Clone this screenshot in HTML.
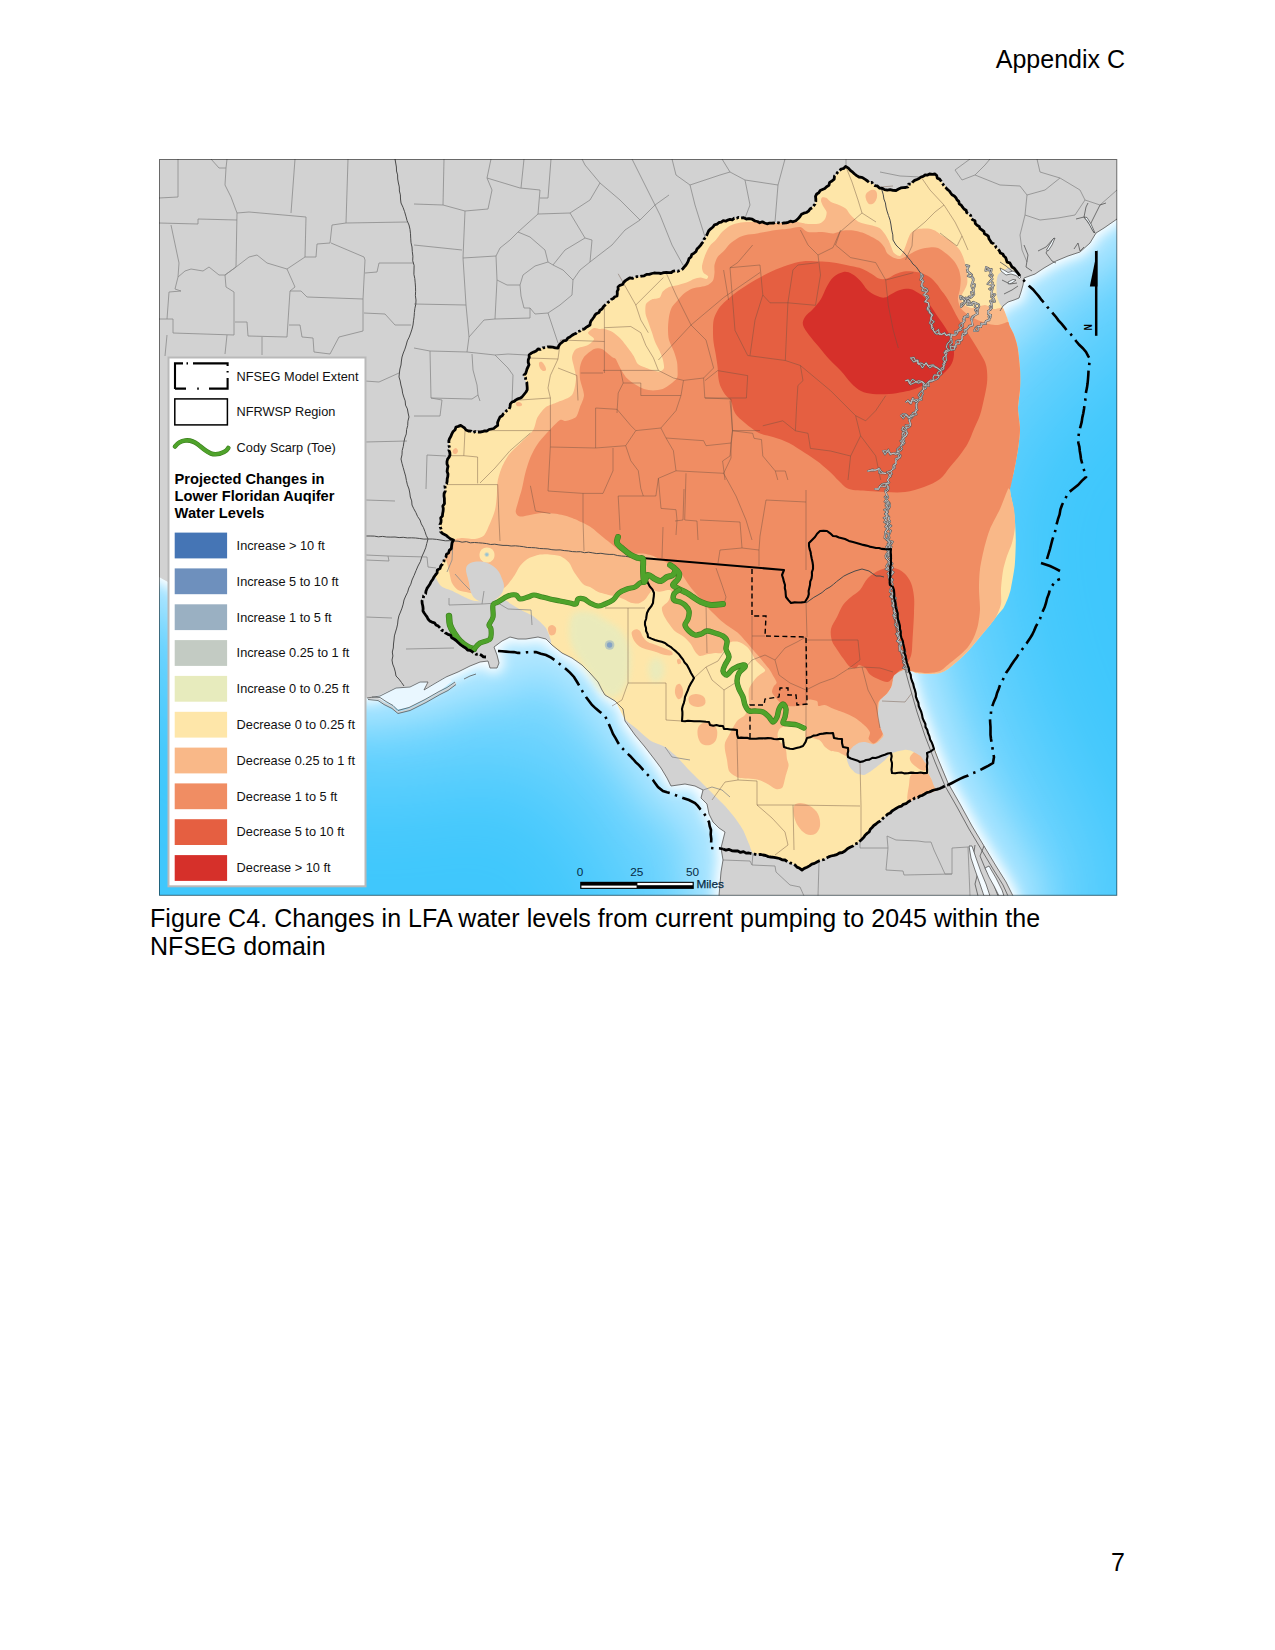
<!DOCTYPE html>
<html lang="en"><head><meta charset="utf-8"><title>Appendix C - Figure C4</title>
<style>
html,body{margin:0;padding:0;background:#fff;}
body{width:1275px;height:1650px;position:relative;overflow:hidden;font-family:"Liberation Sans",Arial,sans-serif;color:#000;}
.t{position:absolute;white-space:nowrap;font-size:25px;line-height:29px;}
svg{position:absolute;left:0;top:0;}
svg text{font-family:"Liberation Sans",Arial,sans-serif;}
</style></head><body>
<div class="t" style="right:150px;top:45px;">Appendix C</div>
<div class="t" style="left:150px;top:903.5px;line-height:28.6px;letter-spacing:0.045px;">Figure C4. Changes in LFA water levels from current pumping to 2045 within the<br>NFSEG domain</div>
<div class="t" style="right:150px;top:1548px;">7</div>
<svg width="1275" height="1650" viewBox="0 0 1275 1650">
<defs>
<clipPath id="frame"><rect x="159" y="159" width="958" height="736.5"/></clipPath>
<filter id="b1" x="-10%" y="-10%" width="120%" height="120%"><feGaussianBlur stdDeviation="60"/></filter>
<filter id="b2" x="-10%" y="-10%" width="120%" height="120%"><feGaussianBlur stdDeviation="22"/></filter>
<filter id="b3" x="-10%" y="-10%" width="120%" height="120%"><feGaussianBlur stdDeviation="6"/></filter>
<filter id="bs" x="-30%" y="-30%" width="160%" height="160%"><feGaussianBlur stdDeviation="3"/></filter>
</defs>
<g clip-path="url(#frame)">
<rect x="150" y="150" width="980" height="760" fill="#3fc7fc"/>
<path d="M150 150 L1130 150 L1130 214 L1117 219 L1104 228 L1096 233 L1090 243 L1080 252 L1068 256 L1056 261 L1044 268 L1035 274 L1024 278 L1023 285 L1021 292 L1019 298 L1014 300 L1008 302 L1003 306 L1000 311 L985 325 L965 345 L945 372 L925 395 L905 430 L892 470 L886 489 L888 519 L890 549 L892 585 L900 629 L908 669 L918 705 L928 733 L938 759 L948 783 L960 804 L972 826 L984 846 L996 866 L1006 882 L1013 896 L1016 905 L719 905 L719 896 L720 884 L721 872 L723 860 L721 848 L723 840 L725 832 L719 828 L713 822 L709 814 L707 804 L701 798 L703 790 L695 786 L685 784 L671 786 L667 778 L661 768 L655 760 L645 747 L635 735 L625 721 L623 709 L615 701 L605 695 L602 690 L598 682 L590 673 L582 665 L572 658 L562 653 L552 645 L546 639 L538 637 L526 639 L518 639 L510 637 L502 641 L494 647 L497 655 L499 663 L497 668 L490 668 L488 661 L480 662 L470 666 L458 672 L446 677 L434 684 L424 690 L428 682 L420 682 L410 687 L396 688 L380 696 L367 698 L340 690 L300 660 L250 640 L200 600 L159 577 L150 575Z" fill="#86daff" stroke="#86daff" stroke-width="150" stroke-linejoin="round" filter="url(#b1)"/>
<path d="M150 150 L1130 150 L1130 214 L1117 219 L1104 228 L1096 233 L1090 243 L1080 252 L1068 256 L1056 261 L1044 268 L1035 274 L1024 278 L1023 285 L1021 292 L1019 298 L1014 300 L1008 302 L1003 306 L1000 311 L985 325 L965 345 L945 372 L925 395 L905 430 L892 470 L886 489 L888 519 L890 549 L892 585 L900 629 L908 669 L918 705 L928 733 L938 759 L948 783 L960 804 L972 826 L984 846 L996 866 L1006 882 L1013 896 L1016 905 L719 905 L719 896 L720 884 L721 872 L723 860 L721 848 L723 840 L725 832 L719 828 L713 822 L709 814 L707 804 L701 798 L703 790 L695 786 L685 784 L671 786 L667 778 L661 768 L655 760 L645 747 L635 735 L625 721 L623 709 L615 701 L605 695 L602 690 L598 682 L590 673 L582 665 L572 658 L562 653 L552 645 L546 639 L538 637 L526 639 L518 639 L510 637 L502 641 L494 647 L497 655 L499 663 L497 668 L490 668 L488 661 L480 662 L470 666 L458 672 L446 677 L434 684 L424 690 L428 682 L420 682 L410 687 L396 688 L380 696 L367 698 L340 690 L300 660 L250 640 L200 600 L159 577 L150 575Z" fill="#b9e9ff" stroke="#b9e9ff" stroke-width="50" stroke-linejoin="round" filter="url(#b2)"/>
<path d="M150 150 L1130 150 L1130 214 L1117 219 L1104 228 L1096 233 L1090 243 L1080 252 L1068 256 L1056 261 L1044 268 L1035 274 L1024 278 L1023 285 L1021 292 L1019 298 L1014 300 L1008 302 L1003 306 L1000 311 L985 325 L965 345 L945 372 L925 395 L905 430 L892 470 L886 489 L888 519 L890 549 L892 585 L900 629 L908 669 L918 705 L928 733 L938 759 L948 783 L960 804 L972 826 L984 846 L996 866 L1006 882 L1013 896 L1016 905 L719 905 L719 896 L720 884 L721 872 L723 860 L721 848 L723 840 L725 832 L719 828 L713 822 L709 814 L707 804 L701 798 L703 790 L695 786 L685 784 L671 786 L667 778 L661 768 L655 760 L645 747 L635 735 L625 721 L623 709 L615 701 L605 695 L602 690 L598 682 L590 673 L582 665 L572 658 L562 653 L552 645 L546 639 L538 637 L526 639 L518 639 L510 637 L502 641 L494 647 L497 655 L499 663 L497 668 L490 668 L488 661 L480 662 L470 666 L458 672 L446 677 L434 684 L424 690 L428 682 L420 682 L410 687 L396 688 L380 696 L367 698 L340 690 L300 660 L250 640 L200 600 L159 577 L150 575Z" fill="#ffffff" stroke="#ffffff" stroke-width="9" stroke-linejoin="round" filter="url(#b3)"/>
<path d="M150 150 L1130 150 L1130 214 L1117 219 L1104 228 L1096 233 L1090 243 L1080 252 L1068 256 L1056 261 L1044 268 L1035 274 L1024 278 L1023 285 L1021 292 L1019 298 L1014 300 L1008 302 L1003 306 L1000 311 L985 325 L965 345 L945 372 L925 395 L905 430 L892 470 L886 489 L888 519 L890 549 L892 585 L900 629 L908 669 L918 705 L928 733 L938 759 L948 783 L960 804 L972 826 L984 846 L996 866 L1006 882 L1013 896 L1016 905 L719 905 L719 896 L720 884 L721 872 L723 860 L721 848 L723 840 L725 832 L719 828 L713 822 L709 814 L707 804 L701 798 L703 790 L695 786 L685 784 L671 786 L667 778 L661 768 L655 760 L645 747 L635 735 L625 721 L623 709 L615 701 L605 695 L602 690 L598 682 L590 673 L582 665 L572 658 L562 653 L552 645 L546 639 L538 637 L526 639 L518 639 L510 637 L502 641 L494 647 L497 655 L499 663 L497 668 L490 668 L488 661 L480 662 L470 666 L458 672 L446 677 L434 684 L424 690 L428 682 L420 682 L410 687 L396 688 L380 696 L367 698 L340 690 L300 660 L250 640 L200 600 L159 577 L150 575Z" fill="#d2d2d2"/>
<path d="M372 697 L380 695 L396 687.5 L410 686.5 L420 681.5 L427 682 L423 690 L434 683.5 L446 676.5 L452 681 L440 691 L426 699 L410 707 L398 709.5 L392 705 L384 701 L378 698Z" fill="#e9f7ff"/>
<path d="M368 698C369.7 698.2 375.3 698.2 378 699C380.7 699.8 381.7 701.7 384 703C386.3 704.3 389.7 705.5 392 707C394.3 708.5 395 711.7 398 712C401 712.3 405.3 710.8 410 709C414.7 707.2 421 703.7 426 701C431 698.3 436.3 695 440 693C443.7 691 445.3 690.7 448 689C450.7 687.3 454.7 684 456 683" fill="none" stroke="#d2d2d2" stroke-width="1.6"/>
<path d="M1020 276C1020.2 275.9 1014.6 270.1 1012 267C1009.4 263.9 1001.5 253.3 998 249C994.5 244.7 986 234.7 982 230C978 225.3 967.8 213.6 964 209C960.2 204.4 952.1 194.3 949.4 191C946.7 187.7 942.7 183 941 181C939.3 179 936.3 174.8 935 174C933.7 173.2 931.2 173.7 929.6 174C928 174.3 923 176.1 921 177C919 177.9 914.5 180.8 912.7 182C910.9 183.2 907.2 186.7 905.6 187.5C904 188.3 900.1 188.7 898.6 189C897.1 189.3 894.6 190.3 893 190.4C891.4 190.5 886.3 190.1 884.5 189.6C882.7 189.1 879.4 187 877.4 186C875.4 185 869.6 182.1 867.5 181C865.4 179.9 861 178.2 859 177C857 175.8 852.2 171.8 850.6 170.6C849 169.4 846.7 166.6 845.6 166.4C844.5 166.2 842.5 168.1 841.4 169C840.3 169.9 837.6 172.6 836.5 174C835.4 175.4 833.2 179.5 832 181C830.8 182.5 828.4 185.3 826.6 186.8C824.8 188.3 818.1 192 816.7 194C815.3 196 815.8 202.2 815 204C814.2 205.8 811.8 207.5 810 209C808.2 210.5 802 215 800 216.5C798 218 794.9 221 793 221.8C791.1 222.6 785.7 222.9 783.5 223C781.3 223.1 776.2 223 774 223C771.8 223 766.9 223.2 764.7 223C762.5 222.8 756.8 221.5 755 221C753.2 220.5 750.6 219 749 218.6C747.4 218.2 743.2 217.7 741 217.8C738.8 217.9 732.6 218.9 730 219.4C727.4 219.9 721 221.6 719 222.5C717 223.4 714.3 225.7 713 227C711.7 228.3 708.6 231.8 707.5 233.5C706.4 235.2 704.7 239.6 703.5 241.4C702.3 243.2 698.5 247.2 697 249C695.5 250.8 692.3 255.1 691 257C689.7 258.9 687.3 263.4 686 265C684.7 266.6 682 269.5 680 270.4C678 271.3 671.2 272.3 669 272.7C666.8 273.1 663 273.4 661 273.5C659 273.6 654.4 273.1 651.8 273.5C649.2 273.9 641.8 276.1 639 276.7C636.2 277.3 630.5 277.8 628 279C625.5 280.2 619.3 285 618 287C616.7 289 618.2 294.2 617 296C615.8 297.8 609.5 301 607.8 302.5C606 304 603.6 307.3 602 309C600.4 310.7 595.4 315.1 594 317C592.6 318.9 591.6 323.4 590 325C588.4 326.6 582.3 329.6 580 331C577.7 332.4 572.3 335.5 570 337C567.7 338.5 561.4 342.7 560 344C558.6 345.3 559.2 347.6 558 348C556.8 348.4 552.3 346.9 550 347C547.7 347.1 540.5 348.1 538 349C535.5 349.9 530.2 352.9 529 355C527.8 357.1 528.6 364.7 528 367C527.4 369.3 524.1 372.9 524 375C523.9 377.1 526.8 383 527 385C527.2 387 526.6 390.6 526 392C525.4 393.4 523.6 395.8 522 397C520.4 398.2 513.4 400.8 512 402C510.6 403.2 511.4 405.2 510 407C508.6 408.8 501.3 415.5 500 417C498.7 418.5 498.9 419 498.6 420C498.3 421 498.6 424.3 497.7 425.4C496.8 426.4 493.1 428.3 491.3 429C489.5 429.7 484.4 431.3 482.3 431.7C480.2 432.1 475.2 432.8 473.3 432.6C471.4 432.4 467.5 430.8 466 430C464.5 429.2 461.9 425.8 460.7 425.4C459.5 425 457.1 425.9 456 427C454.9 428.1 452.4 432.5 451.6 434.4C450.8 436.3 449.2 441.4 449 443.5C448.8 445.6 450 450.4 449.8 452.5C449.6 454.6 447.2 459 447 461.5C446.8 464 448.2 470.8 448 474C447.8 477.2 445.7 485.5 445.3 488.6C444.9 491.8 444.7 498.1 444.4 501C444.1 503.9 443.1 511 442.6 513.8C442.1 516.6 440.2 522.5 440 524.6C439.8 526.7 439.9 530.5 440.8 531.9C441.7 533.3 446.5 536.1 448 537C449.5 537.9 453.1 539 453.5 540C453.9 541 452.5 544 451.6 546C450.7 548 447.3 554.7 446 557C444.7 559.3 442 563.9 440.8 566C439.6 568.1 435.4 572.7 435.4 575C435.4 577.3 438.9 584.1 441 586C443.1 587.9 450.6 590 453.5 591.4C456.4 592.8 463.5 596.6 466 597.7C468.5 598.8 472.2 600.6 475 601C477.8 601.4 486.9 601.3 490 601C493.1 600.7 499.6 598.2 502 598.6C504.4 599 508.9 602.7 511 604C513.1 605.3 517.7 608.1 520 609.4C522.3 610.7 528.9 613.6 531 614.8C533.1 616 536.3 618.5 538 620C539.7 621.5 544.2 625.8 545.5 627.5C546.8 629.2 548.4 633.1 549 634.7C549.6 636.3 550.6 639.8 551 641C551.4 642.2 550.7 643.6 552 645C553.3 646.4 559.7 651.5 562 653C564.3 654.5 569.7 656.6 572 658C574.3 659.4 579.9 663.2 582 665C584.1 666.8 588.1 671 590 673C591.9 675 596.6 680 598 682C599.4 684 601.2 688.5 602 690C602.8 691.5 603.5 693.7 605 695C606.5 696.3 612.7 698.2 615 701C617.3 703.8 622.4 715.7 625 719C627.6 722.3 634 726.4 637 729C640 731.6 647.7 738.9 651 741C654.3 743.1 662 745.1 665 747C668 748.9 674.2 754.3 677 757C679.8 759.7 686.2 767.1 689 770C691.8 772.9 698.2 779.2 701 782C703.8 784.8 710.2 791.2 713 794C715.8 796.8 722.4 803.2 725 806C727.6 808.8 732.9 815.2 735 818C737.1 820.8 741.4 827 743 830C744.6 833 747.8 841.3 749 844C750.2 846.7 751.4 851.7 753 853C754.6 854.3 760.9 854.5 763 855C765.1 855.5 768.4 856.4 771 857C773.6 857.6 782.2 859.1 785 860C787.8 860.9 793 863.8 795 865C797 866.2 799.4 870.4 802 870C804.6 869.6 813.6 863.6 817 862C820.4 860.4 827.7 857.3 831 856C834.3 854.7 842.4 852.2 845 851C847.6 849.8 851.2 847.2 853 846C854.8 844.8 857.3 843.6 860 841C862.7 838.4 872.3 827.5 876 824C879.7 820.5 888.3 813.6 892 811C895.7 808.4 904.7 803.8 908 802C911.3 800.2 917 797.4 920 796C923 794.6 931.7 790.9 934 790C936.3 789.1 939.5 791.6 940 788C940.5 784.4 939.4 765.4 938 759C936.6 752.6 930.3 739.3 928 733C925.7 726.7 920.1 712.2 918 705C915.9 697.8 910.2 674.7 910 671C909.8 667.3 913.9 672.6 916 673C918.1 673.4 925.2 674 928 674C930.8 674 937.7 673.6 940 673C942.3 672.4 945.7 670.6 948 669C950.3 667.4 957.4 661.3 960 659C962.6 656.7 967.7 651.6 970 649C972.3 646.4 977.7 639.8 980 637C982.3 634.2 988.1 627.3 990 625C991.9 622.7 994.4 619 996 617C997.6 615 1002.1 610.2 1003.5 608C1004.9 605.8 1007.1 600.3 1008 598C1008.9 595.7 1010.2 591.9 1011 588C1011.8 584.1 1014.2 570.6 1014.8 565C1015.4 559.4 1015.8 545 1015.8 540C1015.8 535 1015.3 525.6 1015 522C1014.7 518.4 1014.2 512.9 1013.6 509C1013 505.1 1010 493.4 1010 489C1010 484.6 1013.1 475.7 1014 471C1014.9 466.3 1017.3 453.9 1018 449C1018.7 444.1 1020 433.7 1020 429C1020 424.3 1018 413.7 1018 409C1018 404.3 1019.8 393.7 1020 389C1020.2 384.3 1020.2 373.6 1020 369C1019.8 364.4 1018.5 353.3 1018 350C1017.5 346.7 1016.5 342.9 1016 341C1015.5 339.1 1014.1 335.2 1013.4 333.5C1012.7 331.8 1010.3 327.9 1009.6 326C1008.9 324.1 1007.8 319.6 1007 317.5C1006.2 315.4 1003.8 309.6 1003 308C1002.2 306.4 1000.7 305.4 1000 304C999.3 302.6 997.4 298.4 997 296C996.6 293.6 996.4 285.4 996.5 283C996.6 280.6 997.2 276.5 998 275C998.8 273.5 1001.6 271.3 1003 270.5C1004.4 269.7 1008 267.4 1010 268C1012 268.6 1019.8 276.1 1020 276Z" fill="#fee6a9"/>
<path d="M572 615C575.3 610.3 584.5 611.2 590 612C595.5 612.8 600 617 605 620C610 623 615.8 625 620 630C624.2 635 628.7 641.7 630 650C631.3 658.3 630.5 672.2 628 680C625.5 687.8 619.7 695.3 615 697C610.3 698.7 604.2 693.7 600 690C595.8 686.3 593.3 680 590 675C586.7 670 583.3 665.8 580 660C576.7 654.2 571.3 647.5 570 640C568.7 632.5 568.7 619.7 572 615Z" fill="#e8ebbd" filter="url(#bs)" opacity="0.9"/>
<path d="M650 662C651.5 659.3 655.7 657.3 658 658C660.3 658.7 663.3 662.7 664 666C664.7 669.3 663.7 675.3 662 678C660.3 680.7 656.2 682.7 654 682C651.8 681.3 649.7 677.3 649 674C648.3 670.7 648.5 664.7 650 662Z" fill="#e8ebbd" filter="url(#bs)" opacity="0.9"/>
<path d="M453.5 540C455 538.9 459.6 538.1 462.5 538C465.4 537.9 472.1 539.3 475 539C477.9 538.7 482.1 537.4 484 535.5C485.9 533.6 488 528 489.5 524.6C491 521.2 494 513.8 495 510C496 506.2 496.4 499.7 496.8 495.8C497.2 491.9 497 484.8 497.7 481C498.4 477.2 500.4 470.6 502 467C503.6 463.4 507 457.1 509.4 454C511.8 450.9 516.9 446.6 520 443.5C523.1 440.4 530.6 433.9 532.8 430.8C535 427.7 535.6 422.1 536.4 420C537.2 417.9 537.7 416.7 539 415C540.3 413.3 543.5 408.7 546 407C548.5 405.3 554.5 403.6 558 402C561.5 400.4 569.6 398.1 572 395C574.4 391.9 575.7 382.7 576 379C576.3 375.3 574.5 369.9 574 367C573.5 364.1 571.7 359.4 572 357C572.3 354.6 573.9 350.6 576 349C578.1 347.4 585.6 346.3 588 345C590.4 343.7 594 340.6 594 339C594 337.4 588 334.5 588 333C588 331.5 592.4 328.5 594 328C595.6 327.5 598.6 328.9 600 329C601.4 329.1 603 328.6 604.7 329C606.4 329.4 610.4 330.7 612.5 332C614.6 333.3 618.3 336.5 620.4 338.6C622.5 340.7 626.2 345.7 628 348C629.8 350.3 632.4 353.9 633.7 356C635 358.1 636.2 362.2 637.6 363.7C639 365.2 642.1 366.2 644 367C645.9 367.8 649.7 369.4 651.8 370C653.9 370.6 658 371.9 659.6 371.6C661.2 371.3 663.6 369.7 664 368C664.4 366.3 663.3 361.3 662.7 359C662.1 356.7 660.6 353.3 659.6 351C658.6 348.7 656 344.3 655 341.8C654 339.3 652.7 334.5 651.8 332C650.9 329.5 649.4 325.5 648.6 323C647.8 320.5 645.8 316 645.5 313.5C645.2 311 645.2 305.9 646 304C646.8 302.1 650 300.2 651.8 299.4C653.6 298.6 658.1 298.8 659.6 297.8C661.1 296.8 661.4 293 662.7 291.6C664 290.2 666.9 287.9 669 287C671.1 286.1 675.9 285.7 678.4 285C680.9 284.3 685.7 282.8 687.8 282C689.9 281.2 692.3 279.6 694 279C695.7 278.4 698.7 277.5 700.4 277.5C702.1 277.5 705.7 279.2 706.7 279C707.7 278.8 708.4 276.8 708 276C707.6 275.2 704.3 274 703.5 272.7C702.7 271.4 701.8 268.8 702 266.5C702.2 264.2 704 258.2 705 255.5C706 252.8 708.3 248.1 709.8 246C711.3 243.9 714.4 241.7 716 239.8C717.6 237.9 720.1 233.9 722 232C723.9 230.1 727.5 227 730 225.7C732.5 224.4 737.7 223 741 222.5C744.3 222 751.8 221.9 755 222C758.2 222.1 762.2 222.9 764.7 223C767.2 223.1 771.5 223 774 223C776.5 223 781 223.2 783.5 223C786 222.8 791.1 221.9 793 221.8C794.9 221.7 796 221.7 798 222C800 222.3 805.1 223.8 808 224C810.9 224.2 817.2 224.2 819.5 223.5C821.8 222.8 824.1 220.5 825 219C825.9 217.5 826.9 213.7 826.6 212C826.3 210.3 823.7 207.5 823 206C822.3 204.5 821.1 202.1 821 201C820.9 199.9 821.3 197.8 822 197.4C822.7 197 825.4 197.4 826.6 198C827.8 198.6 829.3 201.1 831 202C832.7 202.9 837 204.1 839 205C841 205.9 844.5 207.4 846 208.7C847.5 210 848.9 213.2 850.6 215C852.3 216.8 856.4 220.7 859 222C861.6 223.3 867.3 224.2 870 225C872.7 225.8 877.1 226.7 879 227.8C880.9 228.9 883.2 231.7 884.5 233.4C885.8 235.1 887.8 238.6 888.7 240.5C889.6 242.4 890.8 245.8 891.5 247.5C892.2 249.2 892.9 251.9 894 253C895.1 254.1 898.7 256.4 900 256C901.3 255.6 903.1 251.9 904 250C904.9 248.1 906.1 244.3 907 242C907.9 239.7 909.5 234.7 911 233C912.5 231.3 915.7 229.6 918 229C920.3 228.4 925.7 228.3 928 228.5C930.3 228.7 933.3 229.7 935 230.6C936.7 231.5 939.1 233.7 941 235C942.9 236.3 947 238.2 949.4 240C951.8 241.8 956.9 246.4 958.8 248.8C960.7 251.2 962.5 255.2 963.5 258C964.5 260.8 965.9 266.2 966.4 269.5C966.9 272.8 967.6 280 967.3 282.7C967 285.4 965.4 288 964.5 290C963.6 292 960.7 295.8 960.7 297.8C960.7 299.8 962.9 303.6 964.5 305C966.1 306.4 970.3 308 973 308C975.7 308 982.3 304.9 985 305C987.7 305.1 991 308.6 993 309C995 309.4 998.7 308.1 1000 308C1001.3 307.9 1002.1 306.7 1003 308C1003.9 309.3 1006.1 315.1 1007 317.5C1007.9 319.9 1008.7 323.9 1009.6 326C1010.5 328.1 1012.5 331.5 1013.4 333.5C1014.3 335.5 1015.4 338.8 1016 341C1016.6 343.2 1017.5 346.3 1018 350C1018.5 353.7 1019.7 363.8 1020 369C1020.3 374.2 1020.3 383.7 1020 389C1019.7 394.3 1018 403.7 1018 409C1018 414.3 1020 423.7 1020 429C1020 434.3 1018.8 443.4 1018 449C1017.2 454.6 1015.1 465.7 1014 471C1012.9 476.3 1010 483.9 1010 489C1010 494.1 1013.3 503.9 1014 509C1014.7 514.1 1015.3 522.5 1015 527C1014.7 531.5 1013.1 539.1 1012 543C1010.9 546.9 1008.2 552.3 1007 556C1005.8 559.7 1003.8 566.6 1003 571C1002.2 575.4 1001.3 584.6 1001 589C1000.7 593.4 1001.7 600.3 1001 604C1000.3 607.7 997.5 614.2 996 617C994.5 619.8 992.1 622.3 990 625C987.9 627.7 982.7 633.8 980 637C977.3 640.2 972.7 646.1 970 649C967.3 651.9 962.9 656.3 960 659C957.1 661.7 950.7 667.1 948 669C945.3 670.9 942.7 672.3 940 673C937.3 673.7 931.2 674 928 674C924.8 674 918.4 673.4 916 673C913.6 672.6 911.5 668.7 910 671C908.5 673.3 907 684.8 905 690C903 695.2 897.5 704.7 895 710C892.5 715.3 888 725.3 886 730C884 734.7 882.1 741.7 880 745C877.9 748.3 874 753.4 870 755C866 756.6 853.6 757.1 850 757C846.4 756.9 844.6 755.2 843 754.5C841.4 753.8 839.6 752.5 838 752C836.4 751.5 832.7 751.7 831 751C829.3 750.3 826.5 748.4 825 747C823.5 745.6 822.1 741.7 820 740.4C817.9 739.1 810.9 737.8 809 737.3C807.1 736.8 806 738.6 805.5 737C805 735.4 806.8 726.5 805 725C803.2 723.5 795 725.1 791.8 725.5C788.6 725.9 782.7 726.7 780.8 727.8C778.9 728.9 777.8 732.3 777.6 734C777.4 735.7 777.9 738.5 779 740.4C780.1 742.3 784.4 745.5 785.5 748C786.6 750.5 786.6 756.7 787 759C787.4 761.3 788.8 763.2 788.6 765.5C788.4 767.8 786.3 773.6 785.5 776.5C784.7 779.4 783.7 785.8 782.4 787.5C781.1 789.2 777.9 789.4 776 789C774.1 788.6 770.5 785.6 768 784.3C765.5 783 760.7 780.4 757 779.6C753.3 778.8 742.9 778.5 740 778C737.1 777.5 736.5 776.9 735 776C733.5 775.1 730.1 773.1 729 771C727.9 768.9 727.5 762.8 727 760C726.5 757.2 725.3 752.3 725 750C724.7 747.7 724.5 745 725 743C725.5 741 727.4 737.9 729 735C730.6 732.1 734.9 723.7 737 721C739.1 718.3 743.4 717.1 745 715C746.6 712.9 748.5 708.5 749 705C749.5 701.5 747.9 692.7 749 689C750.1 685.3 754.9 679.4 757 677C759.1 674.6 764.3 672.3 765 671C765.7 669.7 763.7 668.4 762.5 667C761.3 665.6 757.5 662.7 756 660.8C754.5 658.9 752.8 654.9 751.6 653C750.4 651.1 748.6 648.2 746.9 646.7C745.2 645.2 741.1 642.6 739 642C736.9 641.4 732.9 641.4 731 642C729.1 642.6 726.2 645.2 725 646.7C723.8 648.2 723.1 652.2 721.8 653C720.5 653.8 717.6 652.8 715.5 653C713.4 653.2 708.1 654.1 706 654.5C703.9 654.9 701.3 656.4 699.8 656C698.3 655.6 696.3 653.1 695 651.4C693.7 649.7 691.9 645.4 690.4 643.5C688.9 641.6 686.1 638.7 684 637C681.9 635.3 676.8 632.9 674.7 631C672.6 629.1 669.9 625.1 668.4 623C666.9 620.9 664.6 617.4 663.7 615.3C662.8 613.2 661.4 609.4 662 607.5C662.6 605.6 667.1 603.1 668.4 601C669.7 598.9 671.6 593.3 671.6 591.8C671.6 590.3 670.1 590 668.4 590C666.7 590 661.1 591.8 659 591.8C656.9 591.8 654 589.8 652.7 590C651.4 590.2 650.6 592 649.6 593.3C648.6 594.6 646.5 598.2 645 599.6C643.5 601 640.5 603.1 638.6 603.5C636.7 603.9 632.7 603.2 630.8 602.7C628.9 602.2 626.4 600.4 624.5 599.6C622.6 598.8 618.8 597.1 616.7 596.5C614.6 595.9 611.3 595.6 608.8 595C606.3 594.4 600.3 592.9 597.8 591.8C595.3 590.7 592 588 590 587C588 586 585.1 586 583 584C580.9 582 575.9 574.9 574 572C572.1 569.1 570.9 564.6 569 562.5C567.1 560.4 562.7 557.1 560 556C557.3 554.9 551.9 554.5 549 554.4C546.1 554.3 540.9 554.4 538 555C535.1 555.6 529.8 557.5 527.4 559C525 560.5 521.7 563.9 520 566C518.3 568.1 516.2 572.8 514.8 575C513.4 577.2 510.8 580.7 509.4 582.4C508 584.1 505.8 586.7 504 588C502.2 589.3 498.4 590.9 496 592C493.6 593.1 488.8 595.7 486 596C483.2 596.3 477.7 594.5 475 594C472.3 593.5 468.3 592.5 466 592C463.7 591.5 459.9 591.2 458 590C456.1 588.8 453.2 585.5 452 583C450.8 580.5 449.8 574.1 449 571C448.2 567.9 446.9 561.1 446 560C445.1 558.9 442 563.4 442 563C442 562.6 444.7 559.3 446 557C447.3 554.7 450.6 548.3 451.6 546C452.6 543.7 452 541.1 453.5 540Z" fill="#f9b888"/>
<path d="M539 363C539.3 362 541 361.5 542 362C543 362.5 544.3 364.7 545 366C545.7 367.3 546.3 369.2 546 370C545.7 370.8 544 371.3 543 371C542 370.7 540.7 369.3 540 368C539.3 366.7 538.7 364 539 363Z" fill="#f9b888"/>
<path d="M516 403C516.3 402.3 518 401.8 519 402C520 402.2 521.7 403.3 522 404C522.3 404.7 521.8 405.7 521 406C520.2 406.3 517.8 406.5 517 406C516.2 405.5 515.7 403.7 516 403Z" fill="#f9b888"/>
<path d="M453 450C453.5 449.2 455.2 447.8 456 448C456.8 448.2 458 450 458 451C458 452 456.8 453.7 456 454C455.2 454.3 453.5 453.7 453 453C452.5 452.3 452.5 450.8 453 450Z" fill="#f9b888"/>
<path d="M866 194C866.8 192.5 869.3 190.5 871 190C872.7 189.5 875 189.8 876 191C877 192.2 877.3 195 877 197C876.7 199 875.3 201.8 874 203C872.7 204.2 870.3 204.7 869 204C867.7 203.3 866.5 200.7 866 199C865.5 197.3 865.2 195.5 866 194Z" fill="#f9b888"/>
<path d="M631.6 632.5C631.9 630.7 634.1 629.6 635.5 629.4C636.9 629.1 638.8 629.7 640 631C641.2 632.3 641.7 635.2 643 637C644.3 638.8 645.8 640.7 648 642C650.2 643.3 653.4 644 656 645C658.6 646 661.1 646.9 663.7 648C666.3 649.1 670.2 650.2 671.6 651.4C673 652.6 673.1 654.4 672 655C670.9 655.6 667.7 655.5 665 655C662.3 654.5 658.8 652.9 656 652C653.2 651.1 650.7 650.7 648 649.8C645.3 648.9 642.3 648.3 640 646.7C637.7 645.1 635.4 642.8 634 640.4C632.6 638 631.4 634.3 631.6 632.5Z" fill="#f9b888"/>
<path d="M677 660C677.3 659.2 679.3 658.5 680 659C680.7 659.5 681.3 662.2 681 663C680.7 663.8 678.7 664.5 678 664C677.3 663.5 676.7 660.8 677 660Z" fill="#f9b888"/>
<path d="M676 686C676.8 684.5 678.8 683.3 680 684C681.2 684.7 682.7 687.8 683 690C683.3 692.2 682.8 695.5 682 697C681.2 698.5 679.2 699.7 678 699C676.8 698.3 675.3 695.2 675 693C674.7 690.8 675.2 687.5 676 686Z" fill="#f9b888"/>
<path d="M689 697C690 695.3 693.5 694 696 694C698.5 694 702.5 695.3 704 697C705.5 698.7 706 702.3 705 704C704 705.7 700.5 707 698 707C695.5 707 691.5 705.7 690 704C688.5 702.3 688 698.7 689 697Z" fill="#f9b888"/>
<path d="M698 728C698.8 725.7 700.7 723.7 703 723C705.3 722.3 709.7 722.8 712 724C714.3 725.2 716.3 727.3 717 730C717.7 732.7 717.2 737.5 716 740C714.8 742.5 712.3 744.3 710 745C707.7 745.7 704 745.3 702 744C700 742.7 698.7 739.7 698 737C697.3 734.3 697.2 730.3 698 728Z" fill="#f9b888"/>
<path d="M794 806C795 803.8 797.3 803 800 803C802.7 803 807 804.2 810 806C813 807.8 816.3 810.7 818 814C819.7 817.3 820.5 822.7 820 826C819.5 829.3 817.3 832.7 815 834C812.7 835.3 808.8 835.3 806 834C803.2 832.7 800 829 798 826C796 823 794.7 819.3 794 816C793.3 812.7 793 808.2 794 806Z" fill="#f9b888"/>
<path d="M548 628C548.3 626.3 550.7 625 552 625C553.3 625 555.5 626.5 556 628C556.5 629.5 556 632.8 555 634C554 635.2 551.2 636 550 635C548.8 634 547.7 629.7 548 628Z" fill="#f9b888"/>
<path d="M908 801C906.2 799.2 908.3 789.5 909 785C909.7 780.5 909 775.9 912 774C915 772.1 923.8 772.8 927 773.5C930.2 774.2 929.3 775.3 931 778C932.7 780.7 938.8 786.5 937 789.5C935.2 792.5 924.8 794.1 920 796C915.2 797.9 909.8 802.8 908 801Z" fill="#f9b888"/>
<path d="M910 757C910.7 755.2 913.2 752.6 915 751.5C916.8 750.4 919.1 750.2 921 750.5C922.9 750.8 925.6 749.9 926.5 753C927.4 756.1 927.4 766.2 926.5 769C925.6 771.8 922.9 770.5 921 770C919.1 769.5 916.7 767.3 915 766C913.3 764.7 911.8 763.5 911 762C910.2 760.5 909.3 758.8 910 757Z" fill="#f9b888"/>
<path d="M480 552C480.7 550.3 482.3 548.7 484 548C485.7 547.3 488.3 547.3 490 548C491.7 548.7 493.3 550.3 494 552C494.7 553.7 494.7 556.3 494 558C493.3 559.7 491.7 561.3 490 562C488.3 562.7 485.7 562.7 484 562C482.3 561.3 480.7 559.7 480 558C479.3 556.3 479.3 553.7 480 552Z" fill="#fee6a9"/>
<path d="M515.7 512C515.5 509.9 517.6 504.1 518.4 501C519.2 497.9 521 492.5 522 488.6C523 484.7 524.4 476.3 525.6 472C526.8 467.7 529.3 459.8 531 456C532.7 452.2 535.6 446.9 538 443.5C540.4 440.1 546.1 433.9 549 430.8C551.9 427.7 557.7 421.3 560 420C562.3 418.7 563.9 421.4 566 421C568.1 420.6 574.1 418.9 576 417C577.9 415.1 578.9 409.9 580 407C581.1 404.1 584 398.7 584 395C584 391.3 580.5 382.7 580 379C579.5 375.3 579.5 369.9 580 367C580.5 364.1 582.1 359.4 584 357C585.9 354.6 591.6 350.1 594 349C596.4 347.9 599.6 347.9 602 349C604.4 350.1 610.2 355.7 612 357C613.8 358.3 614.6 357.5 615.7 359C616.8 360.5 618.9 365.9 620.4 368.4C621.9 370.9 624.8 375.9 626.7 378C628.6 380.1 632.2 382.5 634.5 384C636.8 385.5 641.5 388.1 644 389C646.5 389.9 650.5 390.4 653 390.4C655.5 390.4 660.4 389.9 662.7 389C665 388.1 668.7 385.5 670.6 384C672.5 382.5 676.1 379.7 677 378C677.9 376.3 677.6 373.7 677.6 371.6C677.6 369.5 677.5 364.7 677 362C676.5 359.3 674.8 353.9 673.7 351C672.6 348.1 669.8 342.9 669 340C668.2 337.1 668 332.1 668 329C668 325.9 668.5 319.6 669 316.7C669.5 313.8 670.7 309.3 672 307C673.3 304.7 676.7 301.3 678.4 299.4C680.1 297.5 682.8 294.5 684.7 293C686.6 291.5 690.4 289.2 692.5 288.4C694.6 287.6 698.3 287.5 700.4 287C702.5 286.5 706.3 285.9 708 285C709.7 284.1 712.1 282.2 713 280.6C713.9 279 714.3 274.8 714.5 272.7C714.7 270.6 714.1 267.1 714.5 265C714.9 262.9 716.3 258.9 717.6 257C718.9 255.1 722.3 252.6 724 250.8C725.7 249 728.1 245.4 730 243.7C731.9 242 735.9 239.2 738 238C740.1 236.8 743.5 235.6 746 235C748.5 234.4 753.5 234.1 757 233.5C760.5 232.9 768.4 231 772.5 230.4C776.6 229.8 784.3 229.3 788 228.8C791.7 228.3 797.3 226.6 800 227C802.7 227.4 805.1 231.3 808 232C810.9 232.7 818.6 231.8 822 232C825.4 232.2 830.7 233.6 833.6 233.4C836.5 233.2 840.9 231 843.5 230.6C846.1 230.2 850.6 230.2 853.4 230.6C856.2 231 862.1 232.5 864.7 233.4C867.3 234.3 871 236.5 873 237.6C875 238.7 878.5 240.7 880 242C881.5 243.3 883.6 246 884.5 247.5C885.4 249 885.9 251.7 887 253C888.1 254.3 891.3 256.6 893 257.4C894.7 258.2 898.1 259.2 900 259C901.9 258.8 905.1 257 907 256C908.9 255 912.1 252.7 914 251.8C915.9 250.9 918.9 249.6 921 249C923.1 248.4 927.3 247.6 929.6 247.5C931.9 247.4 935.6 247.1 938 248C940.4 248.9 945.4 252.8 947.5 254.5C949.6 256.2 952.5 259 954 261C955.5 263 957.9 267.1 958.8 269.5C959.7 271.9 960.6 276.3 960.7 279C960.8 281.7 960.2 287.4 959.8 290C959.4 292.6 957.8 296.3 957.9 298.7C958 301.1 959.4 305.9 960.7 308C962 310.1 965.7 313.1 968 314.7C970.3 316.3 974.8 318.8 977.6 320C980.4 321.2 986.5 323.3 989 324C991.5 324.7 994.8 325 996.5 325C998.2 325 1000.5 324.4 1002 324C1003.5 323.6 1007 321.7 1008 322C1009 322.3 1008.9 324.5 1009.6 326C1010.3 327.5 1012.5 331.5 1013.4 333.5C1014.3 335.5 1015.4 338.8 1016 341C1016.6 343.2 1017.5 346.3 1018 350C1018.5 353.7 1019.7 363.8 1020 369C1020.3 374.2 1020.3 383.7 1020 389C1019.7 394.3 1018 403.7 1018 409C1018 414.3 1020 423.7 1020 429C1020 434.3 1018.8 443.4 1018 449C1017.2 454.6 1015.1 465.7 1014 471C1012.9 476.3 1010.8 486.6 1010 489C1009.2 491.4 1009.3 486.3 1008 489C1006.7 491.7 1002.4 503.7 1000 509C997.6 514.3 992.1 523.7 990 529C987.9 534.3 985.3 543.7 984 549C982.7 554.3 980.7 563.7 980 569C979.3 574.3 979 583.7 979 589C979 594.3 980.1 604.2 980 609C979.9 613.8 978.8 621.3 978 625C977.2 628.7 975.3 634.1 974 637C972.7 639.9 969.9 644.6 968 647C966.1 649.4 962.4 652.9 960 655C957.6 657.1 952.7 660.9 950 663C947.3 665.1 942.9 669.7 940 671C937.1 672.3 931.2 672.9 928 673C924.8 673.1 918.4 672.3 916 672C913.6 671.7 912.1 671.1 910 671C907.9 670.9 902.3 670.1 900 671.4C897.7 672.7 894.3 678.5 893 680.8C891.7 683.1 891.8 686.5 890.6 688.6C889.4 690.7 886 694.6 884.3 696.5C882.6 698.4 878.8 700.2 878 702.7C877.2 705.2 877.7 712.2 878 715.3C878.3 718.4 879.8 723.8 880.4 726.3C881 728.8 883 732.1 882.7 734C882.4 735.9 879.3 739.1 878 740.4C876.7 741.7 874.6 743.7 873.3 743.5C872 743.3 869 740.3 868.6 738.8C868.2 737.3 870.4 734.2 870 732.5C869.6 730.8 867.4 728.2 865.5 726.3C863.6 724.4 858.5 720.1 856 718.4C853.5 716.7 849.6 715 846.7 713.7C843.8 712.4 836.9 710.2 834 709C831.1 707.8 826.8 705.4 824.7 705C822.6 704.6 819.4 706.4 818.4 705.9C817.4 705.4 818.4 701.8 816.9 701C815.4 700.2 809 699.2 807.5 699.6C806 700 807.4 703.1 806 704C804.6 704.9 799.4 705.7 797 706C794.6 706.3 790.1 706.4 788 706C785.9 705.6 782.6 704.1 781 703C779.4 701.9 777.2 699.5 776 698C774.8 696.5 772.3 693.6 772 692C771.7 690.4 773.4 687.2 774 686C774.6 684.8 776.8 684 776.7 682.7C776.6 681.4 774.6 678.4 773.5 676.5C772.4 674.6 770.5 670.9 768.8 668.6C767.1 666.3 763.1 661.5 761 659C758.9 656.5 755.1 652.3 753 649.8C750.9 647.3 747.1 642.7 745 640.4C742.9 638.1 739.8 634.4 737.5 632.5C735.2 630.6 730.5 627.9 728 626C725.5 624.1 721.1 620.7 718.6 618.4C716.1 616.1 711.5 611.7 709 609C706.5 606.3 702.3 600.9 699.8 598C697.3 595.1 692.5 589.7 690.4 587C688.3 584.3 685.7 580.1 684 577.6C682.3 575.1 679.9 569.9 677.8 568C675.7 566.1 670.9 564.7 668.4 563.5C665.9 562.3 661.1 559.8 659 558.8C656.9 557.8 655 556.4 652.7 555.7C650.4 555 645.1 553.7 641.8 553.5C638.5 553.3 631 554.5 628 554C625 553.5 621.4 551.5 619 550C616.6 548.5 612.4 544.6 610 542.7C607.6 540.8 603.4 537.5 601 535.5C598.6 533.5 594.4 529.7 592 528C589.6 526.3 585.8 524.2 583 522.8C580.2 521.4 574.3 518.6 570.7 517.4C567.1 516.2 559.8 514.4 556 513.8C552.2 513.2 545.2 512.9 541.9 513C538.6 513.1 533.9 514.2 531 514.7C528.1 515.2 522 516.9 520 516.5C518 516.1 515.9 514.1 515.7 512Z" fill="#f08d63"/>
<path d="M713 332C713 328.1 712.9 323.4 713.7 319.8C714.5 316.2 715.9 313.3 717.6 310.4C719.3 307.5 721.4 305.1 724 302.5C726.6 299.9 729.7 297.3 733 294.7C736.3 292.1 740 289.6 744 287C748 284.4 752.2 281.7 757 279C761.8 276.3 767.3 273.3 772.5 271C777.7 268.7 783.4 266.5 788 265C792.6 263.5 796.7 262.5 800 261.8C803.3 261.1 804.3 261 808 261C811.7 261 817.2 261.3 822 261.6C826.8 261.9 831.7 262.3 836.5 263C841.3 263.7 846.4 265.1 850.6 266C854.9 266.9 858.5 267.4 862 268.7C865.5 270 869 272.4 871.8 274C874.6 275.6 876.3 277.8 878.8 278.6C881.3 279.4 884.2 279.4 887 278.6C889.8 277.8 893 275.2 895.8 274C898.6 272.8 901.2 271.9 904 271.5C906.8 271.1 909.9 271.2 912.7 271.5C915.5 271.8 918.2 272.1 921 273C923.8 273.9 927 275.2 929.6 277C932.2 278.8 934.8 281.8 936.7 284C938.6 286.2 939.5 288 941 290C942.5 292 943.9 293.5 945.6 296C947.3 298.5 949.3 301.9 951 305C952.7 308.1 954.2 311.5 956 314.7C957.8 317.9 959.6 320.9 961.6 324C963.6 327.1 965.9 330.3 968 333.5C970.1 336.7 972 339.8 974 343C976 346.2 978.2 349.8 980 353C981.8 356.2 983.8 359 985 362C986.2 365 986.7 367.5 987 371C987.3 374.5 987.5 378.3 987 383C986.5 387.7 985.2 393.7 984 399C982.8 404.3 981.7 410 980 415C978.3 420 976 424.3 974 429C972 433.7 970.3 438.7 968 443C965.7 447.3 963 451 960 455C957 459 953.3 463 950 467C946.7 471 944.3 475.7 940 479C935.7 482.3 929.8 484.8 924 487C918.2 489.2 911.5 491.2 905 492C898.5 492.8 891.2 492.2 885 492C878.8 491.8 874 491.5 868 491C862 490.5 853.8 490.7 849 489C844.2 487.3 842.3 484 839 481C835.7 478 832.7 474.3 829 471C825.3 467.7 821 464 817 461C813 458 809.7 456 805 453C800.3 450 794.3 445.7 789 443C783.7 440.3 778 438.7 773 437C768 435.3 763.7 435.3 759 433C754.3 430.7 749 426.3 745 423C741 419.7 737.3 416.7 735 413C732.7 409.3 732.6 404 731 401C729.4 398 727.2 397.3 725.5 395C723.8 392.7 722 389.8 720.8 387C719.6 384.2 718.9 381.3 718.4 378C717.9 374.7 718 370.7 717.6 367C717.2 363.3 716.6 360 716 356C715.4 352 714.2 347 713.7 343C713.2 339 713 335.9 713 332Z" fill="#e55f41"/>
<path d="M860 590C862.8 586.8 864.7 581.3 868 578C871.3 574.7 875.7 571.7 880 570C884.3 568.3 890 567.5 894 568C898 568.5 901.2 570.5 904 573C906.8 575.5 909.3 579 911 583C912.7 587 913.5 592 914 597C914.5 602 914.2 605.8 914 613C913.8 620.2 913 632.9 912.5 640C912 647.1 912.3 651.2 911 655.7C909.7 660.2 906.8 664.1 904.7 666.7C902.6 669.3 900.4 669.6 898.4 671.4C896.4 673.2 894.8 675.8 893 677.6C891.2 679.4 890 681.8 887.5 682C885 682.2 880.9 680.2 878 679C875.1 677.8 872.1 676.3 870 674.5C867.9 672.7 867.3 669.6 865.5 668C863.7 666.4 860.6 665 859 665C857.4 665 857.5 667.7 856 668C854.5 668.3 851.9 668.2 849.8 666.7C847.7 665.2 845.6 661.7 843.5 658.8C841.4 655.9 838.9 652.4 837 649.4C835.1 646.4 833 644.4 832 641C831 637.6 830.2 633 831 629C831.8 625 835 621 837 617C839 613 840.7 608.3 843 605C845.3 601.7 848.2 599.5 851 597C853.8 594.5 857.2 593.2 860 590Z" fill="#e55f41"/>
<path d="M803 325C802.3 322 803.3 319.7 805 317C806.7 314.3 810.3 312 813 309C815.7 306 818.7 302.7 821 299C823.3 295.3 824.5 290.7 826.6 287C828.7 283.3 830.8 279.5 833.6 277C836.4 274.5 840.4 272.5 843.5 272C846.6 271.5 849.2 272.5 852 274C854.8 275.5 857.9 278.3 860.5 281C863.1 283.7 864.9 287.6 867.5 290C870.1 292.4 873.2 294.2 876 295.5C878.8 296.8 881.9 297.9 884.5 297.6C887.1 297.4 888.9 295.3 891.5 294C894.1 292.7 896.9 290.8 900 290C903.1 289.2 907 288.6 910 289C913 289.4 915.7 291.4 918 292.7C920.3 294 922 294.9 924 297C926 299.1 927.7 301.7 930 305C932.3 308.3 935.4 313.2 938 317C940.6 320.8 943.4 324.5 945.6 328C947.8 331.5 949.6 334.2 951 338C952.4 341.8 953.8 346.8 954 351C954.2 355.2 953.7 359.3 952 363C950.3 366.7 947 370 944 373C941 376 937.3 379 934 381C930.7 383 927.2 383.7 924 385C920.8 386.3 918.5 387.8 915 389C911.5 390.2 907.3 391.2 903 392C898.7 392.8 894 393.7 889 394C884 394.3 877.7 394.5 873 394C868.3 393.5 864.7 392.8 861 391C857.3 389.2 854.3 386.3 851 383C847.7 379.7 844.7 375 841 371C837.3 367 832.7 363 829 359C825.3 355 822.3 351 819 347C815.7 343 811.7 338.7 809 335C806.3 331.3 803.7 328 803 325Z" fill="#d6302a"/>
<path d="M466 569.7C466 566.7 467 565.4 468.8 564C470.6 562.6 474.1 561.9 477 561.6C479.9 561.4 483.3 561.8 486 562.5C488.7 563.2 490.9 564.5 493 566C495.1 567.5 497.1 569.4 498.6 571.5C500.1 573.6 501.1 576.4 502 578.8C502.9 581.2 504 583.6 504 586C504 588.4 503.2 590.9 502 593C500.8 595.1 498.9 597.1 496.8 598.6C494.7 600.1 491.9 601.4 489.5 602C487.1 602.6 484.7 602.6 482.3 602C479.9 601.4 476.9 600.4 475 598.6C473.1 596.8 471.6 594.2 470.6 591.4C469.6 588.6 469.6 585.6 468.8 582C468 578.4 466 572.7 466 569.7Z" fill="#d2d2d2"/>
<path d="M900 671.4C898.5 671.9 894.5 674.6 893.7 676C892.9 677.4 892.6 683.8 892 685.5C891.4 687.2 888.7 691.8 887.5 693.3C886.3 694.8 880.6 698.8 879.6 701C878.6 703.2 877.9 712.6 878 715.3C878.1 718 879.9 725.8 880.4 727.8C880.9 729.8 883.7 734.3 883.5 735.7C883.3 737.1 879 741.1 878 742C877 742.9 874.5 744.3 873.3 744.3C872 744.3 866.9 742.2 865.5 742C864.1 741.8 860.2 742.2 859 742.7C857.8 743.2 854.1 745.7 853 746.7C851.9 747.7 848.6 751.8 848 753C847.4 754.2 846.5 757.6 846.7 759C846.9 760.4 848.9 765.6 849.8 767C850.7 768.4 854.6 772.5 856 773.3C857.4 774.1 862.6 775.1 864 775C865.4 774.9 868.8 772.6 870 771.8C871.2 771 875.1 768.1 876.5 767C877.9 765.9 882.9 762.1 884.3 760.8C885.7 759.5 889.3 754.9 890.6 754C891.9 753.1 895.5 751.8 897 751.4C898.5 751 904.5 749.8 906 749.8C907.5 749.8 911.1 750.8 912.5 751.4C913.9 752 919.1 754.9 920.4 756C921.6 757.1 924.2 761.5 925 762.4C925.8 763.3 927.6 763.9 928 765C928.4 766.1 928.2 772.2 928.5 773.5C928.8 774.8 930.2 776.5 931 778C931.8 779.5 934.1 787.9 936 789C937.9 790.1 949.1 790.4 950 789C950.9 787.6 946.6 779 945 775C943.4 771 935.7 753.2 934 749C932.3 744.8 929.6 737.4 928 733C926.4 728.6 919.9 711.2 918 705C916.1 698.8 910.8 674.4 909 671C907.2 667.6 901.5 670.9 900 671.4Z" fill="#d2d2d2"/>
<circle cx="609.6" cy="645" r="4.800000000000001" fill="#7f9fc6" opacity="0.45"/>
<circle cx="609.6" cy="645" r="2.72" fill="#7f9fc6" opacity="0.9"/>
<circle cx="486.8" cy="554.6" r="2.4000000000000004" fill="#8fc0d6" opacity="0.45"/>
<circle cx="486.8" cy="554.6" r="1.36" fill="#8fc0d6" opacity="0.9"/>
<path d="M178 159 L178 197 L159 198M211 159 L219 168 L226 168 L227 159M226 168 L225 185 L231 197 L237 213M237 213 L249 212 L306 217 L305 257 L316 257 L317 244 L330 243 L332 225 L346 223 L407 222M295 159 L291 213M348 159 L346 223M159 223 L198 224 L198 219 L237 220M237 213 L236 267 L225 275M171 225 L179 263 L178 277 L185 271 L191 269 L203 271 L209 267 L219 275 L225 275 L236 267 L249 257 L257 255 L267 263 L287 269 L305 257M178 277 L175 289 L181 291 L169 292 L167 319 L159 319M225 275 L226 287 L234 292 L234 335 L173 333 L173 319 L167 319M287 269 L295 287 L290 291 L287 337 L248 336 L247 322 L235 322M290 291 L301 291 L307 297 L363 299 L365 260 L364 257 L331 243M363 299 L363 331 L339 337 L330 354 L314 352 L313 338 L302 337 L300 325 L289 325M365 273 L377 272 L379 263 L414 263M364 313 L385 314 L395 325 L411 325M167 335 L165 356M227 335 L225 354M262 337 L262 355M365 381 L379 382 L399 373M365 442 L407 441M444 159 L443 205 L414 204M443 205 L465 211 L488 209 L492 190 L487 178 L491 159M487 178 L520 188 L540 190 L538 214 L570 213 L590 200 L600 183 L585 165 L582 159M524 159 L521 188M551 159 L548 198 L540 198M465 211 L463 258 L496 256 L500 248 L510 240 L518 232 L538 214M414 245 L462 250M463 258 L466 305 L414 304M466 305 L469 337 L484 320 L495 319 L497 280 L496 256M518 232 L530 237 L545 250 L548 262 L553 265 L565 250 L585 238 L570 213M497 280 L507 285 L520 285 L521 296 L524 308 L530 308 L530 318 L495 319M520 285 L523 275 L535 266 L548 262M553 265 L563 270 L573 280 L572 295 L560 305 L548 313 L535 314 L530 308M573 280 L580 270 L590 262 L592 240 L585 238M548 313 L558 343M590 262 L612 245 L625 230 L640 220 L655 205 L669 195M600 183 L620 200 L640 220M632 159 L660 215 L672 245 L683 265M469 337 L467 352 L430 351 L414 348M430 351 L431 398 L472 399 L478 395M472 354 L473 370 L477 385 L478 395 L480 401M467 352 L495 355 L508 368 L513 375 L512 402M495 355 L508 354 L527 355M414 416 L440 416 L442 400 L431 398M427 455 L446 456M427 455 L426 489M672 159 L676 175 L690 185 L695 205 L705 237M722 159 L730 172 L745 180 L750 205 L745 218M690 185 L720 175 L730 172M785 159 L778 185 L775 222M745 180 L778 185M846 159 L846 166M880 172 L900 176 L921 177M970 159 L955 170 L962 180 L975 175 L985 165 L990 159M975 175 L1000 185 L1020 186 L1027 195 L1025 215 L1020 235 L1022 250 L1027 262M1027 195 L1045 190 L1060 178 L1080 190 L1085 200M1037 159 L1040 172 L1060 178M1085 200 L1075 215 L1058 218 L1040 220 L1025 215M1085 200 L1100 205 L1117 190M366 555 L388 556 L389 561 L366 560M388 556 L427 557 L428 567 L436 568M366 617 L392 618M406 649 L454 648M449 598 L449 605 L482 604 L484 591M455 574 L463 583 L470 590M482 604 L498 603 L508 609 L531 610 L532 625M453 541 L452 560 L447 572M366 500 L395 501M665 747 L672 757 L690 760M703 790 L712 787 L722 790 L730 797M860 848 L888 848 L887 836 L896 840 L918 841 L925 842 L931 842 L934 850 L940 863 L945 874 L952 874 L952 848 L968 847 L970 896M888 848 L886 870 L903 871 L904 875 L952 874M860 848 L860 840M753 853 L752 865 L775 866 L776 872 L790 885 L800 887 L804 896M819 862 L818 896M723 860 L750 861 L752 865" fill="none" stroke="#8a8a8a" stroke-width="0.8" stroke-linejoin="round"/>
<path d="M604.4 307.7 L604.4 373M560.5 340 L604.4 341.5M529 358 L558 359 L560.5 340M558 359 L550.4 375.4 L548 388 L550.4 398M550.4 398 L512.8 400.5M550.4 398 L550.4 445.7 L548 491M465 430.6 L550.4 430.6M465 430.6 L463.8 455.7 L477.6 457 L477.6 483.4M447.5 455.7 L463.8 455.7M447.5 484.6 L497.7 484.6 L499 520 L500 541M530.4 433 L510 450.7 L495 468 L480 483M558 368 L576.8 375.4 L578 400.5M603 373 L580.6 373M604.4 327.7 L630.8 326.5 L640.8 332.7 L645.8 345.3 L653.4 357.8 L658.4 370.4M603 370.4 L658.4 370.4M620.7 370.4 L623.2 383 L618.2 393 L617 413M623.2 383 L640.8 383 L640.8 395.5 L681 395.5 L683.5 380.4M658.4 370.4 L673.4 378 L683.5 380.4 L703.6 378 L713.6 368M618.2 273.8 L635.8 305 L640.8 320 L648.3 332.7M635.8 305 L663.4 277.5M666 272.5 L676 295 L691 325 L706 340 L713.6 368M658.4 360 L691 325 L723.6 297.6 L760 272.5M723.6 270 L728.6 300M595.6 408 L595.6 448M595.6 408 L617 409.3 L630.8 425.6 L635.8 430.6 L625.7 445.7 L595.6 448M550.4 447 L595.6 448M635.8 430.6 L660.9 428 L676 410.6 L681 395.5M660.9 428 L666 438 L703.6 440.7 L706 445.7 L731 443 L732.4 430.6 L760 430.6M703.6 378 L704.8 398 L731 399 L732.4 430.6M625.7 445.7 L630.8 460.8 L638.3 470.8 L640.8 488.4 L643.3 496M666 438 L673.4 450.7 L676 470.8 L658.4 478.3 L655.9 496 L643.3 496M548 491 L583 493.4 L583 520 L584 551M613 448 L613 470.8 L603 493.4 L583 493.4M643.3 496 L618.2 496 L619.5 520 L620 530M676 470.8 L723.6 473.3 L731 458 L731 443M723.6 473.3 L736 496 L746 520 L752 540M658.4 478.3 L661 508.4 L676 509.7 L677 520 L676 535M686 473.3 L684.7 520 L697 521 L698 540M530.4 485.8 L535.4 511 L550.4 513.5M800.4 230 L808 245 L818 255 L833 247.6 L840.6 230M818 255 L820.5 275 L815.5 305.3M787.9 302.8 L815.5 305.3M760 265 L762.8 295 L770 302.8 L787.9 302.8 L792.9 270 L797.9 265 L818 262.6M730 267.7 L760 265M730 267.7 L732.6 300 L735 330.4 L747.7 355.5M752.7 245 L737.7 262.6 L730 267.7M762.8 295 L755 320 L750 355.5M787.9 302.8 L785.3 360.5M747.7 355.5 L785.3 360.5 L800.4 365.5 L803 380.6 L797.9 385.6 L796.6 405.7 L795.4 430.8 L808 433.3 L810.4 448.4M800.4 365.5 L830.5 390.6 L855.6 415.7 L865.7 420.8M855.6 415.7 L860.6 435.8 L875.7 455.9 L880.7 480M865.7 420.8 L875.7 410.7 L885.7 395.7M705 380.6 L717.6 370.6 L747.7 375.6 L746.4 398 L705 398M730 400.7 L732.6 430.8 L752.7 433.3 L754 438.3 L761.5 439.6 L762.8 456 L775.3 471 L777.8 480M732.6 430.8 L730 456 L722.6 461 L725 480M762.8 425.8 L782.8 420.8 L795.4 430.8M875.7 262.6 L885.7 280 L913.4 272.7M875.7 262.6 L850.6 257.6 L835.5 245M885.7 280 L888.3 305.3 L893.3 330.4 L898.3 348M848 480 L850.6 456 L860.6 435.8M810.4 448.4 L830.5 451 L850.6 456M787.9 480 L785.3 471 L775.3 471M846 167 L852 182 L858 200 L862 213 L876 222M862 213 L840 232 L835.5 245M881 187 L893 186M921 177 L930 190 L944 205 L955 222 L962 236 L968 250M913 232 L925 222 L935 212 L944 205M913 232 L912 246 L905.5 260M940 233 L949 240 L957 246 L962 236M684 489 L683 520 L675 521M700 520 L740 522 L742 548 L759 550 L759 566M742 548 L720 550 L718 563M663 527 L662 558M716 568 L722 585 L726 597 L724 604M706 604 L707 653M752 616 L752 700M765 636 L752 636M806 490 L806 570M766 500 L806 502M766 500 L760 536 L759 550M806 637 L806 740M806 602 L807 637M737 680 L745 668 L752 660 L765 655 L775 660 L785 648 L797 642 L806 637M775 660 L779 675 L790 683 L806 690M694 678 L706 667 L718 661 L726 649M706 667 L712 680 L724 690 L735 683 L737 680M724 690 L724 729M628 608 L628 683 L666 683M605 608 L645 608M666 683 L666 720 L682 721M628 683 L622 700 L612 706M737 739 L738 780 L757 781 L757 805 L793 805 L860 806M793 805 L794 850M738 780 L725 782 L712 800M757 805 L772 818 L785 832 L788 845 L775 855M860 762 L861 806 L861 841M848 669 L862 667 L880 668 L893 672M862 667 L868 690 L876 705 L880 728M806 690 L820 683 L834 678 L848 669M840 640 L858 640 L860 660 L848 669M806 640 L840 640M882 701 L905 702 L912 693" fill="none" stroke="#6b5040" stroke-opacity="0.55" stroke-width="0.8" stroke-linejoin="round"/>
<path d="M395 159 L395.7 163 L396.4 167 L396.5 171 L397.6 174.9 L397.7 179 L398.4 183 L399.3 186.9 L399.4 191 L400.4 194.9 L400.5 199 L401 203 L403 207.3 L404.6 211.7 L405.9 216.2 L407.1 220.7 L409 225 L410 229.3 L410.5 233.8 L410.7 238.2 L411 242.7 L412 247 L412.3 251.6 L412.9 256.2 L412.7 260.8 L414.1 265.4 L414 270 L413.9 274.3 L414.8 278.6 L415.2 282.8 L415.5 287.1 L415.6 291.4 L415.4 295.7 L416 300 L415.8 304.2 L414.9 308.3 L414.4 312.5 L414.1 316.7 L413.5 320.8 L413 325 L412 329.1 L410.7 333.1 L409.2 337.1 L407.3 340.9 L406.2 345 L404.9 349.1 L403.3 353 L402 357 L401.4 361 L401 365 L399.9 369 L399.4 373 L399 377 L400.2 380.9 L400.9 385 L402 389 L402.6 393.1 L403.8 397.1 L405.2 400.9 L405.5 405.1 L407.4 408.9 L408.1 413 L409 417 L407.9 421.2 L407.7 425.5 L406.6 429.6 L406.3 433.9 L404.8 438 L403.9 442.2 L403.3 446.4 L402.2 450.5 L402 454.8 L401 459 L402 463.3 L403.2 467.6 L404.4 471.9 L405.6 476.1 L406.4 480.5 L407.4 484.8 L409 489 L409.8 493 L410.3 497 L411.7 500.9 L412 505 L413.8 508.8 L415.9 512.6 L417.6 516.5 L420 520 L421.3 523.9 L423.4 527.5 L424.9 531.4 L426.2 535.3 L428 539M366 536 L370.1 536 L374.3 536.1 L378.4 536.8 L382.6 536.4 L386.7 537 L390.8 537.1 L395 537 L399.1 537.6 L403.2 537.3 L407.3 537.9 L411.5 537.8 L415.6 538 L419.7 538.5 L423.9 539.1 L428 539 L432.4 539 L436.7 539.4 L441 540.1 L445.3 540.8 L449.7 540.7 L454 541 L458.1 541.2 L462.1 542.2 L466.3 541.6 L470.3 542.8 L474.4 542.5 L478.5 542.8 L482.6 543.1 L486.7 543.6 L490.7 544.5 L494.8 544.2 L498.9 544.9 L503 545.4 L507.1 545.4 L511.1 546 L515.3 545.8 L519.3 546.2 L523.4 546.7 L527.4 547.5 L531.5 547.6 L535.6 547.8 L539.7 548.5 L543.8 548.7 L547.9 548.9 L551.9 549.7 L556 550 L560.1 549.9 L564.2 550.6 L568.3 550.9 L572.3 551.6 L576.4 551.8 L580.5 551.7 L584.6 552.7 L588.7 552.2 L592.8 552.9 L596.8 553.6 L600.9 553.3 L605 554 L609.1 554.4 L613.3 554.4 L617.3 555.5 L621.4 556 L625.5 556.3 L629.6 557 L633.8 556.9 L637.9 557.7 L642 558M881 187 L882.2 191 L883.3 194.9 L883.9 199 L885.4 202.9 L886 207 L887 211 L888.5 215.6 L890.1 220.2 L891 225 L891.7 230 L892.8 234.9 L893 240 L896 245 L899 248.1 L902.3 251 L905.3 254.2 L908 257.6 L910.7 260.7 L912.9 264 L916.1 266.7 L918.4 270 L921 273.7M428 539 L426.8 543.4 L425.7 547.8 L424 552 L421.9 556.6 L420.4 561.5 L418 566 L416 570.7 L414.1 575.4 L412 580 L410.8 584.2 L408.8 588 L407.6 592.2 L405.7 596 L404 600 L403.2 604.1 L402 608.1 L400.5 612 L398.9 615.9 L398 620 L397.6 624.1 L396.7 628.1 L395.5 632 L394.4 635.9 L394 640 L393.5 644 L393.3 648 L392.3 652 L392.9 656 L392 660 L392.7 664.1 L394.2 667.9 L395.3 671.9 L396 676 L399 679.1 L401.5 682.5 L404 686M806 603 L809.9 600.2 L813.8 597.4 L818 595 L822.1 592.5 L825.8 589.3 L830 587 L833.4 584.4 L836.6 581.6 L840 579 L843.8 576.1 L848 574 L855 571 L862 569 L869 571 L872.5 573.5 L876 576 L880.1 576 L884 577" fill="none" stroke="#4a4a4a" stroke-width="1" stroke-linejoin="round"/>
<path d="M893 587 L896 601 L900 629 L906 659 L912 681 L920 709 L928 733 L938 759 L948 783 L960 804 L972 826 L984 846 L996 866 L1006 882 L1013 896" fill="none" stroke="#555" stroke-width="0.8"/>
<path d="M890 590 L893 610 L897 635 L903 662 L909 684 L917 712 L925 736 L935 762 L945 786 L957 807 L969 829 L981 849 L993 869 L1003 885 L1008 896" fill="none" stroke="#555" stroke-width="0.8"/>
<path d="M984 846 L980 856 L985 868 L992 880 L998 896" fill="none" stroke="#555" stroke-width="0.8"/>
<path d="M975 845 L973 858 L978 872 L975 884 L978 896" fill="none" stroke="#555" stroke-width="0.8"/>
<path d="M719 896 L720 884 L721 872 L723 860 L721 848 L723 840 L725 832 L719 828 L713 822 L709 814 L707 804 L701 798 L703 790 L695 786 L685 784 L671 786 L667 778 L661 768 L655 760 L645 747 L635 735 L625 721 L623 709 L615 701 L605 695 L602 690 L598 682 L590 673 L582 665 L572 658 L562 653 L552 645 L546 639 L538 637 L526 639 L518 639 L510 637 L502 641 L494 647 L497 655 L499 663 L497 668 L490 668 L488 661 L480 662 L470 666 L458 672 L446 677 L434 684 L424 690 L428 682 L420 682 L410 687 L396 688 L380 696 L367 698" fill="none" stroke="#555" stroke-width="0.8"/>
<path d="M368 699.5 L378 700.5 L384 704.5 L392 708.5 L398 713.5 L410 710.5 L426 702.5 L440 694.5 L448 690.5 L456 684.5" fill="none" stroke="#555" stroke-width="0.8"/>
<path d="M372 697 L380 697.5 L386 701.5 L393 705.5 L398 710.5 L409 707.5 L425 699.5 L439 691.5 L447 687.5 L455 682" fill="none" stroke="#555" stroke-width="0.8"/>
<path d="M464 679 L470 676 L476 674" fill="none" stroke="#555" stroke-width="0.8"/>
<path d="M1117 219 L1104 228 L1096 233 L1090 243 L1080 252 L1068 256 L1056 261 L1044 268 L1035 274 L1024 278 L1023 285 L1021 292 L1019 298 L1014 300 L1008 302 L1003 306 L1000 311" fill="none" stroke="#555" stroke-width="0.8"/>
<path d="M1024 245 L1028 255 L1026 267 L1032 271" fill="none" stroke="#555" stroke-width="0.8"/>
<path d="M1038 251 L1046 247 L1054 238 L1050 245 L1046 253 L1052 261 L1056 263" fill="none" stroke="#555" stroke-width="0.8"/>
<path d="M1074 249 L1078 243 L1080 251 L1084 247" fill="none" stroke="#555" stroke-width="0.8"/>
<path d="M1076 219 L1084 217 L1086 207 L1088 203" fill="none" stroke="#555" stroke-width="0.8"/>
<path d="M1084 217 L1090 225 L1094 233" fill="none" stroke="#555" stroke-width="0.8"/>
<path d="M1090 225 L1096 213 L1100 205 L1106 203" fill="none" stroke="#555" stroke-width="0.8"/>
<path d="M1000 262 L1006 266 L1012 271 L1018 276" fill="none" stroke="#555" stroke-width="0.8"/>
<path d="M1002 280 L1010 284 L1017 283" fill="none" stroke="#555" stroke-width="0.8"/>
<path d="M1004 294 L1012 290 L1018 286" fill="none" stroke="#555" stroke-width="0.8"/>
<path d="M921 273.7 L923.1 275.7 L921.5 278.4 L923 280.6 L921.9 283.1 L922.2 285.5 L923.4 287.7 L926.8 289 L927.8 291 L923.5 294.9 L927.7 295.8 L928.6 298 L924.7 301.6 L928.4 302.8 L929 305.3 L927.1 308.2 L929.8 310.3 L929.3 313 L932.8 314.9 L931 317.8 L930.6 320.5 L929.6 323.3 L932.3 325.4 L931.4 328.2 L933.4 330.4 L935.1 332.3 L938.6 329.5 L939.1 334.4 L941.6 334.3 L944.4 333.4 L946 335.4 L949.9 334 L951 338M921 273.7 L921 275.8 L921 277.8 L920.4 280 L923.5 281.5 L921.9 283.8 L921.1 286 L923.4 287.7 L922.1 290.5 L926.4 291.5 L924.8 294.4 L925.7 296.5 L927 298.5 L925.4 301.4 L928.4 302.8 L928.6 305 L929.4 307 L927.2 309.6 L929.2 311.5 L931.3 313.3 L931.6 315.5 L931 317.8 L931.4 319.9 L934.1 321.6 L931.7 324.2 L931.4 326.4 L933.4 328.2 L933.4 330.4 L934.8 332.9 L936.8 334.1 L939.6 333.2 L941.5 334.6 L944.6 332.7 L946 335.4 L949.6 334.7 L951 338" fill="none" stroke="#5a5a5a" stroke-width="1.9" stroke-linejoin="round" stroke-linecap="round"/>
<path d="M921 273.7 L923.1 275.7 L921.5 278.4 L923 280.6 L921.9 283.1 L922.2 285.5 L923.4 287.7 L926.8 289 L927.8 291 L923.5 294.9 L927.7 295.8 L928.6 298 L924.7 301.6 L928.4 302.8 L929 305.3 L927.1 308.2 L929.8 310.3 L929.3 313 L932.8 314.9 L931 317.8 L930.6 320.5 L929.6 323.3 L932.3 325.4 L931.4 328.2 L933.4 330.4 L935.1 332.3 L938.6 329.5 L939.1 334.4 L941.6 334.3 L944.4 333.4 L946 335.4 L949.9 334 L951 338M921 273.7 L921 275.8 L921 277.8 L920.4 280 L923.5 281.5 L921.9 283.8 L921.1 286 L923.4 287.7 L922.1 290.5 L926.4 291.5 L924.8 294.4 L925.7 296.5 L927 298.5 L925.4 301.4 L928.4 302.8 L928.6 305 L929.4 307 L927.2 309.6 L929.2 311.5 L931.3 313.3 L931.6 315.5 L931 317.8 L931.4 319.9 L934.1 321.6 L931.7 324.2 L931.4 326.4 L933.4 328.2 L933.4 330.4 L934.8 332.9 L936.8 334.1 L939.6 333.2 L941.5 334.6 L944.6 332.7 L946 335.4 L949.6 334.7 L951 338" fill="none" stroke="#cdcdcd" stroke-width="0.75" stroke-linejoin="round" stroke-linecap="round"/>
<path d="M951 338 L952 340.7 L952.2 343.1 L949.8 344.7 L950.6 347.4 L950.5 349.7 L947.9 351.3 L944.1 352.6 L946 355.5 L943.5 357.1 L943 359.3 L945.5 362.5 L942.9 364.1 L943.8 366.7 L943.7 369.1 L941 370.6 L941.5 374.1 L939.4 375.7 L934.3 374.9 L933.2 377.3 L933.4 380.6 L930.5 380.2 L928.6 381.5 L928.9 386 L926 385.6 L926 388.3 L923.1 389.5 L921.4 391.4 L919.6 393.2 L918.4 395.3 L921.8 399.7 L918.4 400.7 L917 402.6 L915.9 404.6 L916.2 407.1 L917.5 409.9 L915 411.5 L916.6 414.4 L913.4 415.7 L909.8 416.6 L909.1 419 L909.9 422 L910.2 424.9 L905.6 425.3 L906.5 428.4 L905.8 430.8 L902.8 432.2 L902.3 434.4 L903.6 437.3 L903.5 439.6 L901.6 441.4 L901.9 443.9 L900.8 445.9 L902.1 448.7 L900.6 450.6 L896.8 451.7 L900.7 455.4 L900 457.6 L895.7 458.6 L895.8 461 L896.1 463.6 L893.6 464.9 L893 467.1 L892.7 469.4 L890.8 471 L887 472.2 L891 476.2 L888.8 477.9 L887.5 480 L889.3 482.6 L886.5 485 L888.7 487.5 L888.1 490 L885.5 492.4 L887 495 L888.2 497.2 L886.7 499.5 L884.6 501.7 L889.8 503.8 L890.1 506 L889.1 508.3 L885.7 510.6 L886.7 512.8 L887.5 515 L889.3 517.1 L888.9 519.4 L890.1 521.5 L888.4 523.9 L891.3 525.9 L887.2 528.4 L886.1 530.7 L885.9 533 L889 535 L887.8 537.5 L886.6 540 L892.8 541.7 L891.3 544.2 L887.3 547 L890.5 549M951 338 L950.3 339.9 L949.5 341.8 L947.6 343.3 L946.8 345.2 L946.3 347.2 L948.3 349.9 L944.9 351 L946.9 353.7 L946 355.5 L946.2 358 L946.6 360.5 L943.8 362 L944.8 364.7 L943.5 366.7 L941.2 368.3 L941 370.6 L938.6 371.4 L937.4 373.1 L938.9 376.9 L937.7 378.6 L935.7 379.7 L933.4 380.6 L931.4 381.6 L928.7 381.6 L927 383.1 L926 385.6 L923 386.5 L923.7 389.2 L922.5 390.9 L923.2 393.6 L922.1 395.5 L921.7 397.6 L919.2 398.7 L918.4 400.7 L917.2 402.7 L916.6 404.9 L916.8 407.3 L915.9 409.4 L916.1 411.8 L912.6 413 L913.4 415.7 L912.1 417.4 L910.3 418.9 L909.1 420.6 L910.6 423.8 L910.4 426 L908.7 427.5 L904.9 428 L905.8 430.8 L903.6 432.5 L904.8 435.3 L902.3 436.8 L903.7 439.7 L900.4 441 L903.5 444.4 L900.8 445.9 L898.9 447.7 L897 449.4 L899.1 452.5 L898.1 454.6 L899.1 457.3 L897.6 459.2 L895.8 461 L896 463.6 L894.7 465.5 L894.8 468 L892.7 469.5 L890.8 471 L891.9 474 L889 475.5 L888.8 477.9 L887.5 480 L888.8 482.2 L885.1 484.2 L888.3 486.5 L887.1 488.6 L885.1 490.6 L885.7 492.8 L887 495 L884.6 497.1 L886.5 499 L885.2 501 L889.5 502.9 L886 505 L888.2 507 L888.3 509 L886 511 L886.2 513 L887.5 515 L888.5 516.9 L888.5 518.9 L889.1 520.9 L885.8 523.2 L887.7 525 L889.6 526.9 L888.4 529 L891 530.8 L890 532.9 L889 535 L889.2 537 L887 539.3 L887.8 541.2 L889.6 543 L888.7 545.1 L891.6 546.9 L890.5 549" fill="none" stroke="#5a5a5a" stroke-width="1.9" stroke-linejoin="round" stroke-linecap="round"/>
<path d="M951 338 L952 340.7 L952.2 343.1 L949.8 344.7 L950.6 347.4 L950.5 349.7 L947.9 351.3 L944.1 352.6 L946 355.5 L943.5 357.1 L943 359.3 L945.5 362.5 L942.9 364.1 L943.8 366.7 L943.7 369.1 L941 370.6 L941.5 374.1 L939.4 375.7 L934.3 374.9 L933.2 377.3 L933.4 380.6 L930.5 380.2 L928.6 381.5 L928.9 386 L926 385.6 L926 388.3 L923.1 389.5 L921.4 391.4 L919.6 393.2 L918.4 395.3 L921.8 399.7 L918.4 400.7 L917 402.6 L915.9 404.6 L916.2 407.1 L917.5 409.9 L915 411.5 L916.6 414.4 L913.4 415.7 L909.8 416.6 L909.1 419 L909.9 422 L910.2 424.9 L905.6 425.3 L906.5 428.4 L905.8 430.8 L902.8 432.2 L902.3 434.4 L903.6 437.3 L903.5 439.6 L901.6 441.4 L901.9 443.9 L900.8 445.9 L902.1 448.7 L900.6 450.6 L896.8 451.7 L900.7 455.4 L900 457.6 L895.7 458.6 L895.8 461 L896.1 463.6 L893.6 464.9 L893 467.1 L892.7 469.4 L890.8 471 L887 472.2 L891 476.2 L888.8 477.9 L887.5 480 L889.3 482.6 L886.5 485 L888.7 487.5 L888.1 490 L885.5 492.4 L887 495 L888.2 497.2 L886.7 499.5 L884.6 501.7 L889.8 503.8 L890.1 506 L889.1 508.3 L885.7 510.6 L886.7 512.8 L887.5 515 L889.3 517.1 L888.9 519.4 L890.1 521.5 L888.4 523.9 L891.3 525.9 L887.2 528.4 L886.1 530.7 L885.9 533 L889 535 L887.8 537.5 L886.6 540 L892.8 541.7 L891.3 544.2 L887.3 547 L890.5 549M951 338 L950.3 339.9 L949.5 341.8 L947.6 343.3 L946.8 345.2 L946.3 347.2 L948.3 349.9 L944.9 351 L946.9 353.7 L946 355.5 L946.2 358 L946.6 360.5 L943.8 362 L944.8 364.7 L943.5 366.7 L941.2 368.3 L941 370.6 L938.6 371.4 L937.4 373.1 L938.9 376.9 L937.7 378.6 L935.7 379.7 L933.4 380.6 L931.4 381.6 L928.7 381.6 L927 383.1 L926 385.6 L923 386.5 L923.7 389.2 L922.5 390.9 L923.2 393.6 L922.1 395.5 L921.7 397.6 L919.2 398.7 L918.4 400.7 L917.2 402.7 L916.6 404.9 L916.8 407.3 L915.9 409.4 L916.1 411.8 L912.6 413 L913.4 415.7 L912.1 417.4 L910.3 418.9 L909.1 420.6 L910.6 423.8 L910.4 426 L908.7 427.5 L904.9 428 L905.8 430.8 L903.6 432.5 L904.8 435.3 L902.3 436.8 L903.7 439.7 L900.4 441 L903.5 444.4 L900.8 445.9 L898.9 447.7 L897 449.4 L899.1 452.5 L898.1 454.6 L899.1 457.3 L897.6 459.2 L895.8 461 L896 463.6 L894.7 465.5 L894.8 468 L892.7 469.5 L890.8 471 L891.9 474 L889 475.5 L888.8 477.9 L887.5 480 L888.8 482.2 L885.1 484.2 L888.3 486.5 L887.1 488.6 L885.1 490.6 L885.7 492.8 L887 495 L884.6 497.1 L886.5 499 L885.2 501 L889.5 502.9 L886 505 L888.2 507 L888.3 509 L886 511 L886.2 513 L887.5 515 L888.5 516.9 L888.5 518.9 L889.1 520.9 L885.8 523.2 L887.7 525 L889.6 526.9 L888.4 529 L891 530.8 L890 532.9 L889 535 L889.2 537 L887 539.3 L887.8 541.2 L889.6 543 L888.7 545.1 L891.6 546.9 L890.5 549" fill="none" stroke="#cdcdcd" stroke-width="0.75" stroke-linejoin="round" stroke-linecap="round"/>
<path d="M941 370.6 L939.1 369.1 L937.2 367.6 L935.1 366.5 L933.3 364.9 L930.7 365.3 L928 366 L926 362.8 L922.4 368 L920.5 364.7 L918 364 L918 360.3 L915 360.3 L914.2 357.5 L910.8 358M941 370.6 L938.9 369.6 L937.1 367.8 L934.9 367.1 L933 365.7 L929.8 367.8 L928 366 L926.5 363.2 L924.1 364.9 L922.3 363.5 L920.3 363.1 L918 364 L917.6 360.8 L913.6 361.9 L912.2 360 L910.8 358" fill="none" stroke="#5a5a5a" stroke-width="1.9" stroke-linejoin="round" stroke-linecap="round"/>
<path d="M941 370.6 L939.1 369.1 L937.2 367.6 L935.1 366.5 L933.3 364.9 L930.7 365.3 L928 366 L926 362.8 L922.4 368 L920.5 364.7 L918 364 L918 360.3 L915 360.3 L914.2 357.5 L910.8 358M941 370.6 L938.9 369.6 L937.1 367.8 L934.9 367.1 L933 365.7 L929.8 367.8 L928 366 L926.5 363.2 L924.1 364.9 L922.3 363.5 L920.3 363.1 L918 364 L917.6 360.8 L913.6 361.9 L912.2 360 L910.8 358" fill="none" stroke="#cdcdcd" stroke-width="0.75" stroke-linejoin="round" stroke-linecap="round"/>
<path d="M926 385.6 L924.1 382.9 L921.7 381.9 L918.5 383 L916 382 L913.2 383.2 L910.5 384.5 L908.5 379.9 L905.8 380.6M926 385.6 L923.7 385.7 L922.9 381.8 L920.8 381.2 L918.7 380.7 L916 382 L914.2 380.2 L912.2 379.5 L909.5 383.7 L907.9 380.2 L905.8 380.6" fill="none" stroke="#5a5a5a" stroke-width="1.9" stroke-linejoin="round" stroke-linecap="round"/>
<path d="M926 385.6 L924.1 382.9 L921.7 381.9 L918.5 383 L916 382 L913.2 383.2 L910.5 384.5 L908.5 379.9 L905.8 380.6M926 385.6 L923.7 385.7 L922.9 381.8 L920.8 381.2 L918.7 380.7 L916 382 L914.2 380.2 L912.2 379.5 L909.5 383.7 L907.9 380.2 L905.8 380.6" fill="none" stroke="#cdcdcd" stroke-width="0.75" stroke-linejoin="round" stroke-linecap="round"/>
<path d="M913.4 415.7 L910.9 416.8 L908.4 417.9 L905.8 414.7 L903.3 418.4 L900.8 415.7M913.4 415.7 L911.3 414.8 L909.2 417.8 L907.1 415.1 L905 413.9 L902.9 414 L900.8 415.7" fill="none" stroke="#5a5a5a" stroke-width="1.9" stroke-linejoin="round" stroke-linecap="round"/>
<path d="M913.4 415.7 L910.9 416.8 L908.4 417.9 L905.8 414.7 L903.3 418.4 L900.8 415.7M913.4 415.7 L911.3 414.8 L909.2 417.8 L907.1 415.1 L905 413.9 L902.9 414 L900.8 415.7" fill="none" stroke="#cdcdcd" stroke-width="0.75" stroke-linejoin="round" stroke-linecap="round"/>
<path d="M918 400 L915.9 402.1 L912.7 397.9 L911.2 403.6 L908.2 400.3 L906 402M918 400 L915.9 399.6 L914.1 401 L911.8 399.8 L910.4 403.6 L907.8 400.7 L906 402" fill="none" stroke="#5a5a5a" stroke-width="1.9" stroke-linejoin="round" stroke-linecap="round"/>
<path d="M918 400 L915.9 402.1 L912.7 397.9 L911.2 403.6 L908.2 400.3 L906 402M918 400 L915.9 399.6 L914.1 401 L911.8 399.8 L910.4 403.6 L907.8 400.7 L906 402" fill="none" stroke="#cdcdcd" stroke-width="0.75" stroke-linejoin="round" stroke-linecap="round"/>
<path d="M898 453.4 L895.5 453.2 L892.9 453.4 L890.1 454.5 L888.4 449.5 L885 454.5 L883 451M898 453.4 L895.6 454.5 L893.6 453.3 L891.3 453.9 L889.3 452.6 L887.3 451.4 L885.3 450.6 L883 451" fill="none" stroke="#5a5a5a" stroke-width="1.9" stroke-linejoin="round" stroke-linecap="round"/>
<path d="M898 453.4 L895.5 453.2 L892.9 453.4 L890.1 454.5 L888.4 449.5 L885 454.5 L883 451M898 453.4 L895.6 454.5 L893.6 453.3 L891.3 453.9 L889.3 452.6 L887.3 451.4 L885.3 450.6 L883 451" fill="none" stroke="#cdcdcd" stroke-width="0.75" stroke-linejoin="round" stroke-linecap="round"/>
<path d="M900.8 445.9 L902.2 444.1 L902.5 441.7 L904.4 440.2 L903.3 437.1 L906 436 L907.2 433.1 L906.5 430.8 L904.7 428.9 L903 427M900.8 445.9 L901.6 443.8 L904.6 442.9 L901.8 438.8 L904 437.5 L906 436 L907.5 433 L905.3 431.2 L901.9 429.9 L903 427" fill="none" stroke="#5a5a5a" stroke-width="1.9" stroke-linejoin="round" stroke-linecap="round"/>
<path d="M900.8 445.9 L902.2 444.1 L902.5 441.7 L904.4 440.2 L903.3 437.1 L906 436 L907.2 433.1 L906.5 430.8 L904.7 428.9 L903 427M900.8 445.9 L901.6 443.8 L904.6 442.9 L901.8 438.8 L904 437.5 L906 436 L907.5 433 L905.3 431.2 L901.9 429.9 L903 427" fill="none" stroke="#cdcdcd" stroke-width="0.75" stroke-linejoin="round" stroke-linecap="round"/>
<path d="M885.7 473.5 L883.2 472.9 L881 471.4 L879.3 468.3 L876 470 L873.4 470.6 L870.7 470.6 L868 471M885.7 473.5 L883.6 473.4 L881.3 473.4 L879.3 473 L878.7 468.7 L876 470 L873.9 469.8 L871.9 469.5 L870 470.5 L868 471" fill="none" stroke="#5a5a5a" stroke-width="1.9" stroke-linejoin="round" stroke-linecap="round"/>
<path d="M885.7 473.5 L883.2 472.9 L881 471.4 L879.3 468.3 L876 470 L873.4 470.6 L870.7 470.6 L868 471M885.7 473.5 L883.6 473.4 L881.3 473.4 L879.3 473 L878.7 468.7 L876 470 L873.9 469.8 L871.9 469.5 L870 470.5 L868 471" fill="none" stroke="#cdcdcd" stroke-width="0.75" stroke-linejoin="round" stroke-linecap="round"/>
<path d="M889 483 L886.8 483.9 L884.2 483.5 L881.9 484.2 L880 486 L878.7 489.5 L875 489M889 483 L886.5 483.1 L885.3 486.8 L882.6 486.4 L880 486 L878.2 488.7 L875 489" fill="none" stroke="#5a5a5a" stroke-width="1.9" stroke-linejoin="round" stroke-linecap="round"/>
<path d="M889 483 L886.8 483.9 L884.2 483.5 L881.9 484.2 L880 486 L878.7 489.5 L875 489M889 483 L886.5 483.1 L885.3 486.8 L882.6 486.4 L880 486 L878.2 488.7 L875 489" fill="none" stroke="#cdcdcd" stroke-width="0.75" stroke-linejoin="round" stroke-linecap="round"/>
<path d="M951 338 L951.7 335.2 L955.3 335.3 L957.1 333.6 L958 331 L961.4 330 L959.3 325.4 L961.1 323.3 L964 322 L963 319 L964.4 317.2 L968.3 316.7 L968 314M951 338 L951.1 334.6 L955.2 335.2 L954.9 331.4 L958 331 L959 329.1 L961.1 327.9 L962.9 326.4 L962.6 323.7 L964 322 L965 320 L963.8 316.9 L966.7 315.8 L968 314" fill="none" stroke="#5a5a5a" stroke-width="1.9" stroke-linejoin="round" stroke-linecap="round"/>
<path d="M951 338 L951.7 335.2 L955.3 335.3 L957.1 333.6 L958 331 L961.4 330 L959.3 325.4 L961.1 323.3 L964 322 L963 319 L964.4 317.2 L968.3 316.7 L968 314M951 338 L951.1 334.6 L955.2 335.2 L954.9 331.4 L958 331 L959 329.1 L961.1 327.9 L962.9 326.4 L962.6 323.7 L964 322 L965 320 L963.8 316.9 L966.7 315.8 L968 314" fill="none" stroke="#cdcdcd" stroke-width="0.75" stroke-linejoin="round" stroke-linecap="round"/>
<path d="M966 265 L969.3 265.9 L966.8 269.6 L968.1 271.4 L970 273 L967.7 276.1 L972.4 277.7 L973 280.2 L972 283 L971.2 286 L972.3 288.6 L974 291 L974.2 294.4 L972 297 L969 296.5 L966.8 299 L964 299 L964.7 302.3 L969.7 301.3 L970 305 L972.4 302.3 L976 303 L974.6 306.8 L978 309 L977.8 311.4 L977.4 313.7 L975 315 L972.2 316.6 L972.2 319.3 L972 322 L972.5 325.2 L969.1 325.8 L968 328 L965.7 329.4 L966.7 333.3 L962.7 333.4 L962 336 L962.4 339.4 L959.8 340.6 L959.6 343.6 L956 344 L955.8 347.2 L950.3 346 L951 350M966 265 L967.4 266.8 L967.8 269.1 L967.3 271.8 L970 273 L972 274.7 L972.2 276.7 L973.6 278.5 L973.6 280.6 L972 283 L975 284.4 L974.7 286.6 L973.4 289 L974 291 L970.9 292.2 L971.7 294.7 L972 297 L970.2 298.1 L968.1 298.5 L965.8 297.5 L964 299 L966.1 299.9 L968.6 300.4 L967.2 304.8 L970 305 L972.2 304.9 L973.4 301.8 L976 303 L978.8 304.3 L979.3 306.3 L978 309 L974.9 309.9 L977.8 313.9 L975 315 L973.4 317.1 L970.8 318.7 L972 322 L972.7 325.3 L969.8 326.3 L968 328 L966.9 329.7 L963.9 329.9 L965.7 333.8 L964.2 335.2 L962 336 L961.8 338.4 L961.5 340.6 L957.7 340.3 L955.9 341.4 L956 344 L954.6 346.2 L954.5 349.5 L951 350" fill="none" stroke="#5a5a5a" stroke-width="1.9" stroke-linejoin="round" stroke-linecap="round"/>
<path d="M966 265 L969.3 265.9 L966.8 269.6 L968.1 271.4 L970 273 L967.7 276.1 L972.4 277.7 L973 280.2 L972 283 L971.2 286 L972.3 288.6 L974 291 L974.2 294.4 L972 297 L969 296.5 L966.8 299 L964 299 L964.7 302.3 L969.7 301.3 L970 305 L972.4 302.3 L976 303 L974.6 306.8 L978 309 L977.8 311.4 L977.4 313.7 L975 315 L972.2 316.6 L972.2 319.3 L972 322 L972.5 325.2 L969.1 325.8 L968 328 L965.7 329.4 L966.7 333.3 L962.7 333.4 L962 336 L962.4 339.4 L959.8 340.6 L959.6 343.6 L956 344 L955.8 347.2 L950.3 346 L951 350M966 265 L967.4 266.8 L967.8 269.1 L967.3 271.8 L970 273 L972 274.7 L972.2 276.7 L973.6 278.5 L973.6 280.6 L972 283 L975 284.4 L974.7 286.6 L973.4 289 L974 291 L970.9 292.2 L971.7 294.7 L972 297 L970.2 298.1 L968.1 298.5 L965.8 297.5 L964 299 L966.1 299.9 L968.6 300.4 L967.2 304.8 L970 305 L972.2 304.9 L973.4 301.8 L976 303 L978.8 304.3 L979.3 306.3 L978 309 L974.9 309.9 L977.8 313.9 L975 315 L973.4 317.1 L970.8 318.7 L972 322 L972.7 325.3 L969.8 326.3 L968 328 L966.9 329.7 L963.9 329.9 L965.7 333.8 L964.2 335.2 L962 336 L961.8 338.4 L961.5 340.6 L957.7 340.3 L955.9 341.4 L956 344 L954.6 346.2 L954.5 349.5 L951 350" fill="none" stroke="#cdcdcd" stroke-width="0.75" stroke-linejoin="round" stroke-linecap="round"/>
<path d="M986 267 L985.4 270.9 L991.7 269 L991 273 L989.2 275.5 L992.5 278.6 L990 281 L987.4 284.1 L994 285.4 L989.1 289 L992 291 L991.5 293.9 L991.1 296.9 L994 299 L990 301 L992 305 L992.1 307.9 L990.2 309.6 L988 311 L988.4 313.8 L991 315 L990.4 317.9 L988.8 320 L986 321 L985.7 324.1 L980.9 323.5 L981 327 L977.5 326.3 L975.4 328 L974 331M986 267 L988.6 268.2 L989.4 271 L991 273 L992.9 275.3 L991.3 277.1 L992.5 279.3 L990 281 L992.9 282.5 L991.9 284.8 L993.1 286.6 L992.6 288.8 L992 291 L991.3 293.3 L995.3 294.4 L992.9 297.2 L994 299 L995.1 301.6 L991.2 302.5 L992 305 L989.6 306.3 L990.6 309.8 L988 311 L988.1 314.1 L991 315 L988.5 316.3 L989.4 320.4 L986 321 L984.7 323.3 L981.9 324.3 L981 327 L978.2 326.1 L978.3 330.5 L976.4 331.1 L974 331" fill="none" stroke="#5a5a5a" stroke-width="1.9" stroke-linejoin="round" stroke-linecap="round"/>
<path d="M986 267 L985.4 270.9 L991.7 269 L991 273 L989.2 275.5 L992.5 278.6 L990 281 L987.4 284.1 L994 285.4 L989.1 289 L992 291 L991.5 293.9 L991.1 296.9 L994 299 L990 301 L992 305 L992.1 307.9 L990.2 309.6 L988 311 L988.4 313.8 L991 315 L990.4 317.9 L988.8 320 L986 321 L985.7 324.1 L980.9 323.5 L981 327 L977.5 326.3 L975.4 328 L974 331M986 267 L988.6 268.2 L989.4 271 L991 273 L992.9 275.3 L991.3 277.1 L992.5 279.3 L990 281 L992.9 282.5 L991.9 284.8 L993.1 286.6 L992.6 288.8 L992 291 L991.3 293.3 L995.3 294.4 L992.9 297.2 L994 299 L995.1 301.6 L991.2 302.5 L992 305 L989.6 306.3 L990.6 309.8 L988 311 L988.1 314.1 L991 315 L988.5 316.3 L989.4 320.4 L986 321 L984.7 323.3 L981.9 324.3 L981 327 L978.2 326.1 L978.3 330.5 L976.4 331.1 L974 331" fill="none" stroke="#cdcdcd" stroke-width="0.75" stroke-linejoin="round" stroke-linecap="round"/>
<path d="M960 296 L962.6 297 L964.1 299.2 L966 301 L964.7 303.3 L962.9 305.2 L961 307M960 296 L960.7 299.2 L964.3 298.9 L966 301 L964 302.7 L961.2 303.8 L961 307" fill="none" stroke="#5a5a5a" stroke-width="1.9" stroke-linejoin="round" stroke-linecap="round"/>
<path d="M960 296 L962.6 297 L964.1 299.2 L966 301 L964.7 303.3 L962.9 305.2 L961 307M960 296 L960.7 299.2 L964.3 298.9 L966 301 L964 302.7 L961.2 303.8 L961 307" fill="none" stroke="#cdcdcd" stroke-width="0.75" stroke-linejoin="round" stroke-linecap="round"/>
<path d="M889.5 549 L889.5 551.3 L887.8 553.8 L886.9 556.1 L891.3 558.3 L888.4 560.7 L888.9 563.1 L889.2 565.4 L892.9 567.5 L890.5 570 L893.7 572.2 L891.7 574.8 L889.6 577.4 L892.9 579.6 L891.6 582.1 L892.9 584.5 L892 587 L890.1 589.6 L889.7 591.9 L893.5 593.8 L890 596.5 L896.2 598.1 L891.7 601 L894 603 L892 605.8 L896.9 607.5 L893.8 610.5 L895.1 612.8 L892.9 615.6 L898 617.3 L896.5 620 L896.6 622.3 L894.8 624.9 L896.7 626.9 L899.2 628.8 L901 630.8 L896 634 L899.3 635.7 L899.5 638 L896.9 641.1 L902.7 642.4 L899 645.7 L899.5 648.1 L899.4 650.7 L905.5 651.9 L903 655 L904.4 657.2 L906.9 659.2 L903.1 662.7 L906.2 664.5 L903 667.8 L907.2 669.4 L907 672M889.5 549 L890.4 551.1 L890.1 553.2 L890 555.3 L890.7 557.4 L889.9 559.5 L890.7 561.6 L892.6 563.6 L890.7 565.8 L892.9 567.8 L890.5 570 L892.7 571.9 L892.1 574.1 L888.7 576.6 L891.3 578.5 L891.2 580.6 L889.5 582.9 L889.7 585.1 L892 587 L891.9 589 L893.9 590.8 L892.6 593 L893.7 594.9 L890.9 597.3 L895.9 598.7 L894.4 600.9 L894 603 L893.3 605.3 L894.1 607.3 L894.6 609.4 L893.9 611.7 L896.9 613.4 L894.1 616 L894.1 618.2 L896.5 620 L899.2 621.6 L898 623.9 L898.2 625.9 L898.4 627.9 L898 630 L899.8 631.8 L898.1 634.1 L897.2 636.3 L899.5 638 L897.8 640.6 L898.6 642.6 L902.2 644.1 L900 646.8 L900.3 648.9 L901.6 650.9 L901.7 653.1 L903 655 L904.6 656.9 L902.6 659.6 L905.8 661.1 L904.7 663.6 L906.7 665.3 L905.8 667.8 L908.8 669.3 L907 672" fill="none" stroke="#5a5a5a" stroke-width="1.9" stroke-linejoin="round" stroke-linecap="round"/>
<path d="M889.5 549 L889.5 551.3 L887.8 553.8 L886.9 556.1 L891.3 558.3 L888.4 560.7 L888.9 563.1 L889.2 565.4 L892.9 567.5 L890.5 570 L893.7 572.2 L891.7 574.8 L889.6 577.4 L892.9 579.6 L891.6 582.1 L892.9 584.5 L892 587 L890.1 589.6 L889.7 591.9 L893.5 593.8 L890 596.5 L896.2 598.1 L891.7 601 L894 603 L892 605.8 L896.9 607.5 L893.8 610.5 L895.1 612.8 L892.9 615.6 L898 617.3 L896.5 620 L896.6 622.3 L894.8 624.9 L896.7 626.9 L899.2 628.8 L901 630.8 L896 634 L899.3 635.7 L899.5 638 L896.9 641.1 L902.7 642.4 L899 645.7 L899.5 648.1 L899.4 650.7 L905.5 651.9 L903 655 L904.4 657.2 L906.9 659.2 L903.1 662.7 L906.2 664.5 L903 667.8 L907.2 669.4 L907 672M889.5 549 L890.4 551.1 L890.1 553.2 L890 555.3 L890.7 557.4 L889.9 559.5 L890.7 561.6 L892.6 563.6 L890.7 565.8 L892.9 567.8 L890.5 570 L892.7 571.9 L892.1 574.1 L888.7 576.6 L891.3 578.5 L891.2 580.6 L889.5 582.9 L889.7 585.1 L892 587 L891.9 589 L893.9 590.8 L892.6 593 L893.7 594.9 L890.9 597.3 L895.9 598.7 L894.4 600.9 L894 603 L893.3 605.3 L894.1 607.3 L894.6 609.4 L893.9 611.7 L896.9 613.4 L894.1 616 L894.1 618.2 L896.5 620 L899.2 621.6 L898 623.9 L898.2 625.9 L898.4 627.9 L898 630 L899.8 631.8 L898.1 634.1 L897.2 636.3 L899.5 638 L897.8 640.6 L898.6 642.6 L902.2 644.1 L900 646.8 L900.3 648.9 L901.6 650.9 L901.7 653.1 L903 655 L904.6 656.9 L902.6 659.6 L905.8 661.1 L904.7 663.6 L906.7 665.3 L905.8 667.8 L908.8 669.3 L907 672" fill="none" stroke="#cdcdcd" stroke-width="0.75" stroke-linejoin="round" stroke-linecap="round"/>
<path d="M887 500 L888.9 502.3 L885.7 504.4 L887.7 506.7 L888.5 509 L886.5 511.1 L886.4 513.3 L886.4 515.6 L886.4 517.8 L886 520 L887.7 522.1 L887.9 524.3 L885.3 526.8 L887.8 528.8 L885.7 531.2 L885.2 533.5 L884.8 535.7 L884.5 538 L887.5 540 L889.3 542.2 L889.3 544.4 L886.2 546.7 L887.2 548.9 L889.7 551.1 L886.7 553.4 L885.5 555.6 L885.8 557.8 L888 560 L890 562.1 L889.6 564.3 L891.6 566.4 L885.6 569.1 L890.6 571 L887.6 573.4 L888.9 575.6 L888.7 577.8 L889.5 580M887 500 L886.6 502 L888.7 504.1 L885.6 505.9 L887.6 508.1 L884.2 509.9 L888 512.1 L884.9 513.9 L887.9 516.1 L883.7 517.9 L886 520 L884.2 522.1 L888.3 523.8 L885.7 526.1 L888.1 527.9 L886.7 530 L885.1 532.1 L888.8 533.9 L888.7 535.9 L889.6 537.8 L887.5 540 L889.8 541.9 L887.6 544 L889.4 546 L889.6 548 L886.7 550 L888.9 552 L888.7 554 L888.7 556 L886.2 558 L888 560 L889.3 561.9 L887.5 564.1 L886.2 566.2 L888.2 568 L889.9 569.9 L890.8 571.9 L888.3 574.1 L890.9 575.9 L889.9 578 L889.5 580" fill="none" stroke="#5a5a5a" stroke-width="1.9" stroke-linejoin="round" stroke-linecap="round"/>
<path d="M887 500 L888.9 502.3 L885.7 504.4 L887.7 506.7 L888.5 509 L886.5 511.1 L886.4 513.3 L886.4 515.6 L886.4 517.8 L886 520 L887.7 522.1 L887.9 524.3 L885.3 526.8 L887.8 528.8 L885.7 531.2 L885.2 533.5 L884.8 535.7 L884.5 538 L887.5 540 L889.3 542.2 L889.3 544.4 L886.2 546.7 L887.2 548.9 L889.7 551.1 L886.7 553.4 L885.5 555.6 L885.8 557.8 L888 560 L890 562.1 L889.6 564.3 L891.6 566.4 L885.6 569.1 L890.6 571 L887.6 573.4 L888.9 575.6 L888.7 577.8 L889.5 580M887 500 L886.6 502 L888.7 504.1 L885.6 505.9 L887.6 508.1 L884.2 509.9 L888 512.1 L884.9 513.9 L887.9 516.1 L883.7 517.9 L886 520 L884.2 522.1 L888.3 523.8 L885.7 526.1 L888.1 527.9 L886.7 530 L885.1 532.1 L888.8 533.9 L888.7 535.9 L889.6 537.8 L887.5 540 L889.8 541.9 L887.6 544 L889.4 546 L889.6 548 L886.7 550 L888.9 552 L888.7 554 L888.7 556 L886.2 558 L888 560 L889.3 561.9 L887.5 564.1 L886.2 566.2 L888.2 568 L889.9 569.9 L890.8 571.9 L888.3 574.1 L890.9 575.9 L889.9 578 L889.5 580" fill="none" stroke="#cdcdcd" stroke-width="0.75" stroke-linejoin="round" stroke-linecap="round"/>
<path d="M969 846 L972 846 L976 858 L981 872 L986 884 L990 896 L984 896 L980 884 L975 870 L971 858Z" fill="#f4fbff" stroke="#444" stroke-width="0.7"/>
<path d="M985 868 L989 866 L996 878 L1002 890 L1004 896 L999 896 L994 886 L989 877Z" fill="#f4fbff" stroke="#444" stroke-width="0.7"/>
<path d="M1000 268 L1004 270 L1008 272.5 L1013 271 L1018 273.5 L1021 277 L1019.5 278.5 L1016 275.5 L1011 274 L1006 275 L1001 271Z" fill="#f4fbff" stroke="#444" stroke-width="0.7"/>
<path d="M1008 282 L1013 279.5 L1016 280 L1012 283 L1008.5 284Z" fill="#f4fbff" stroke="#444" stroke-width="0.7"/>
<path d="M1084 217 L1088 222 L1093 231 L1095 233 L1091 224 L1087 217.5Z" fill="#f4fbff" stroke="#444" stroke-width="0.7"/>
<path d="M1050 244 L1053 239 L1055 238 L1052 245 L1048 251 L1046.5 250Z" fill="#f4fbff" stroke="#444" stroke-width="0.7"/>
<path d="M752 569 L752 616 L766 616 L765 636 L806 637 L807 704 L797 705 L796 695 L788 695 L788 688 L780 688 L779 697 L765 699 L764 705 L750 705 L750 738" fill="none" stroke="#000" stroke-width="1.4" stroke-dasharray="5 3.2"/>
<path d="M642 558 L784 570 L782 575 L783.1 578.3 L783.9 581.7 L785 585 L784.8 588 L785.5 591 L785.7 594 L786 597 L788.4 600.1 L791 603 L794.5 602.4 L798 602.5 L801.5 602.4 L805 602 L808 597 L808.8 594.1 L808.6 590.9 L809.3 588 L810 585 L810.2 581.7 L811.5 578.7 L812 575.4 L811.9 572.1 L813 569 L813 565.4 L812.5 561.9 L811.7 558.5 L811 555 L810.6 552 L809.6 549.1 L809 546.1 L809 543 L812 540 L815 537 L817.1 533.7 L820 531 L823.5 530.7 L827 531 L830.2 533.3 L833 536 L836.1 536.2 L839 537.5 L842 538.2 L845 539 L848.9 540.9 L853 542 L856.5 543 L860 544 L863.2 544.9 L866.4 545.6 L869.6 546.6 L872.8 547.2 L876 548 L879 548 L882 548.9 L885 549.1 L888 549.2 L891 549 L890.7 552 L891 555 L891 558 L890.9 561 L891.1 564 L890.2 567 L890.5 570 L890 573 L890.4 576 L889.7 579 L889.7 582 L890 585 L893 587 L894 590.4 L894.3 594 L894.1 597.6 L895 601 L895.6 604.1 L895.6 607.3 L896.8 610.3 L897.7 613.4 L897.6 616.6 L898 619.7 L899.1 622.7 L899.9 625.8 L900 629 L900.8 632 L900.7 635.1 L901.5 638.1 L902.8 640.9 L903.3 643.9 L904 646.9 L904.7 649.9 L904.5 653.1 L905.7 655.9 L906 659 L906.8 662.2 L907.8 665.3 L908.9 668.3 L909.2 671.6 L910.7 674.6 L911 677.9 L912 681 L913.3 684 L913.9 687.2 L915 690.2 L915.8 693.4 L915.9 696.7 L917 699.8 L918.4 702.7 L918.7 706 L920 709 L921.3 711.9 L922.1 715 L922.6 718.1 L923.9 721 L925.4 723.9 L925.5 727.2 L927.3 729.9 L928 733 L929.4 736.1 L930.1 739.5 L931.8 742.5 L933 745.7 L934 749 L930.7 751.4 L927 753 L927.5 756.3 L926.9 759.7 L927.3 763 L926.9 766.3 L927.1 769.7 L927 773 L923.8 773.1 L920.6 772.5 L917.5 773 L914.3 772.9 L911.1 772.6 L907.9 773.3 L904.7 773.4 L901.5 772.6 L898.4 772.7 L895.2 773.3 L892 773 L891.5 769.7 L891.9 766.3 L892 763 L891 759.7 L891.7 756.3 L891 753 L887.8 753.5 L884.8 754.7 L881.7 755.8 L878.7 757 L875.6 758 L872.3 757.9 L869.4 759.6 L866.1 760 L863.2 761.4 L860 762 L857.1 760.4 L854 759.4 L850.9 758.5 L848 757 L847.6 754 L848.2 751 L848 748 L843 747 L842 743.1 L842 739 L838 738.8 L834 738 L833 733 L829.7 733.2 L826.5 733.1 L823.2 733.6 L820 734 L816.8 735.2 L813.4 735.6 L810.3 737.3 L807 738 L805.5 742.2 L803 746 L799.7 747.2 L796.4 748.1 L793 749 L789.9 748.8 L786.9 748 L784 747 L783.4 743 L783 739 L780 738.9 L777 739.3 L774 739 L771 738.3 L768 738.1 L765 738.4 L762 738.3 L759 738.4 L756 738.8 L753 738.8 L750 738.8 L747 737.7 L744 737.9 L741 737.6 L738 738 L737 734.1 L737 730 L733.8 729.6 L730.5 729.5 L727.3 729 L724 729 L723 726 L719.7 725.9 L716.5 725 L713.2 725.7 L710 725 L709 722 L706 721.8 L703 721.5 L700 721.2 L697 721.3 L694 721.2 L691 721 L688 720.8 L685 721.3 L682 721 L682.2 718 L682.4 715 L682.4 712 L682 709 L682.7 706 L683.8 703.1 L684.6 700.1 L685 697 L686.4 693.7 L687.8 690.4 L689 687 L690.6 683.9 L692.4 681 L694 678 L691 673 L689.1 668.9 L687 665 L684.6 662.6 L683.1 659.6 L681 657 L678.7 653.9 L676 651.4 L673 649 L670.5 646.8 L667.6 645.1 L665 643 L661.7 641.8 L658.4 640.9 L655 640 L651.5 638.6 L648 637 L647.6 633.9 L646.1 631.1 L646 627.9 L645 625 L645 621.9 L646.1 619 L646.5 616 L647 613 L648.7 609.5 L651.2 606.4 L653 603 L653.3 599.7 L653.8 596.3 L654 593 L652.4 589.4 L649.8 586.5 L648 583 L646.5 579.6 L645.8 576.1 L645.2 572.4 L644 569Z" fill="none" stroke="#000" stroke-width="2.1" stroke-linejoin="round"/>
<path d="M449 616C449.2 617.5 449.2 622.2 450 625C450.8 627.8 452.3 630.3 454 633C455.7 635.7 457.7 638.7 460 641C462.3 643.3 465.7 645.7 468 647C470.3 648.3 473 648.7 474 649" fill="none" stroke="#3d7f1f" stroke-width="6.4" stroke-linecap="round" stroke-linejoin="round"/>
<path d="M449 616C449.2 617.5 449.2 622.2 450 625C450.8 627.8 452.3 630.3 454 633C455.7 635.7 457.7 638.7 460 641C462.3 643.3 465.7 645.7 468 647C470.3 648.3 473 648.7 474 649" fill="none" stroke="#4fa32b" stroke-width="5.2" stroke-linecap="round" stroke-linejoin="round"/>
<path d="M474 649C475 648 477.3 644.7 480 643C482.7 641.3 488.2 641.3 490 639C491.8 636.7 491.2 631.3 491 629C490.8 626.7 488.7 627 489 625C489.3 623 492.3 620.3 493 617C493.7 613.7 492.2 607.5 493 605C493.8 602.5 495.5 603.5 498 602C500.5 600.5 505 597.2 508 596C511 594.8 514 594.5 516 595C518 595.5 518 598.7 520 599C522 599.3 525.7 597.7 528 597C530.3 596.3 531.7 595 534 595C536.3 595 539.3 596.3 542 597C544.7 597.7 547 598.3 550 599C553 599.7 556.7 600.3 560 601C563.3 601.7 567.3 602.5 570 603C572.7 603.5 574.7 604.7 576 604C577.3 603.3 576.7 599.8 578 599C579.3 598.2 582 598.3 584 599C586 599.7 587.7 601.8 590 603C592.3 604.2 595.5 605.8 598 606C600.5 606.2 602.5 605 605 604C607.5 603 610.7 601.8 613 600C615.3 598.2 616.7 594.8 619 593C621.3 591.2 624.3 590 627 589C629.7 588 632.8 588 635 587C637.2 586 638.5 583.8 640 583C641.5 582.2 643.3 582.2 644 582" fill="none" stroke="#3d7f1f" stroke-width="5.2" stroke-linecap="round" stroke-linejoin="round"/>
<path d="M474 649C475 648 477.3 644.7 480 643C482.7 641.3 488.2 641.3 490 639C491.8 636.7 491.2 631.3 491 629C490.8 626.7 488.7 627 489 625C489.3 623 492.3 620.3 493 617C493.7 613.7 492.2 607.5 493 605C493.8 602.5 495.5 603.5 498 602C500.5 600.5 505 597.2 508 596C511 594.8 514 594.5 516 595C518 595.5 518 598.7 520 599C522 599.3 525.7 597.7 528 597C530.3 596.3 531.7 595 534 595C536.3 595 539.3 596.3 542 597C544.7 597.7 547 598.3 550 599C553 599.7 556.7 600.3 560 601C563.3 601.7 567.3 602.5 570 603C572.7 603.5 574.7 604.7 576 604C577.3 603.3 576.7 599.8 578 599C579.3 598.2 582 598.3 584 599C586 599.7 587.7 601.8 590 603C592.3 604.2 595.5 605.8 598 606C600.5 606.2 602.5 605 605 604C607.5 603 610.7 601.8 613 600C615.3 598.2 616.7 594.8 619 593C621.3 591.2 624.3 590 627 589C629.7 588 632.8 588 635 587C637.2 586 638.5 583.8 640 583C641.5 582.2 643.3 582.2 644 582" fill="none" stroke="#4fa32b" stroke-width="4.0" stroke-linecap="round" stroke-linejoin="round"/>
<path d="M618 537C617.8 538 616.2 541 617 543C617.8 545 620.7 547 623 549C625.3 551 628.5 553.5 631 555C633.5 556.5 636 557.3 638 558C640 558.7 642.2 557.2 643 559C643.8 560.8 642.8 565.2 643 569C643.2 572.8 643.2 581 644 582C644.8 583 646.2 575.5 648 575C649.8 574.5 652.8 578 655 579C657.2 580 659 581.3 661 581C663 580.7 665 578 667 577C669 576 671.7 576.3 673 575C674.3 573.7 675.5 570.7 675 569C674.5 567.3 670.2 565.2 670 565C669.8 564.8 672.5 566.7 674 568C675.5 569.3 678.3 571.2 679 573C679.7 574.8 679 577 678 579C677 581 672.8 583.3 673 585C673.2 586.7 676.7 587.7 679 589C681.3 590.3 684.7 591.7 687 593C689.3 594.3 690.7 595.5 693 597C695.3 598.5 698 600.7 701 602C704 603.3 707.3 604.7 711 605C714.7 605.3 721 604.2 723 604" fill="none" stroke="#3d7f1f" stroke-width="6.0" stroke-linecap="round" stroke-linejoin="round"/>
<path d="M618 537C617.8 538 616.2 541 617 543C617.8 545 620.7 547 623 549C625.3 551 628.5 553.5 631 555C633.5 556.5 636 557.3 638 558C640 558.7 642.2 557.2 643 559C643.8 560.8 642.8 565.2 643 569C643.2 572.8 643.2 581 644 582C644.8 583 646.2 575.5 648 575C649.8 574.5 652.8 578 655 579C657.2 580 659 581.3 661 581C663 580.7 665 578 667 577C669 576 671.7 576.3 673 575C674.3 573.7 675.5 570.7 675 569C674.5 567.3 670.2 565.2 670 565C669.8 564.8 672.5 566.7 674 568C675.5 569.3 678.3 571.2 679 573C679.7 574.8 679 577 678 579C677 581 672.8 583.3 673 585C673.2 586.7 676.7 587.7 679 589C681.3 590.3 684.7 591.7 687 593C689.3 594.3 690.7 595.5 693 597C695.3 598.5 698 600.7 701 602C704 603.3 707.3 604.7 711 605C714.7 605.3 721 604.2 723 604" fill="none" stroke="#4fa32b" stroke-width="4.8" stroke-linecap="round" stroke-linejoin="round"/>
<path d="M679 590C678.2 590.7 674.8 592.3 674 594C673.2 595.7 673 598.7 674 600C675 601.3 678.2 601.2 680 602C681.8 602.8 683.5 603.5 685 605C686.5 606.5 688.5 608.7 689 611C689.5 613.3 688.7 616.7 688 619C687.3 621.3 684.8 623 685 625C685.2 627 687.3 629.3 689 631C690.7 632.7 693 634.5 695 635C697 635.5 699 634.7 701 634C703 633.3 704.7 631.2 707 631C709.3 630.8 712.3 632.2 715 633C717.7 633.8 721 634.7 723 636C725 637.3 726.5 638.8 727 641C727.5 643.2 725.7 646.3 726 649C726.3 651.7 729.2 654.3 729 657C728.8 659.7 726 662.7 725 665C724 667.3 722.7 669.3 723 671C723.3 672.7 725.3 675.3 727 675C728.7 674.7 730.3 670.7 733 669C735.7 667.3 741 665.3 743 665C745 664.7 745.7 665.7 745 667C744.3 668.3 740.3 670.7 739 673C737.7 675.3 737 678.3 737 681C737 683.7 738 686.3 739 689C740 691.7 742 694.3 743 697C744 699.7 744 702.7 745 705C746 707.3 747.3 710 749 711C750.7 712 752.7 710.8 755 711C757.3 711.2 760.7 711 763 712C765.3 713 767.3 715.3 769 717C770.7 718.7 771.7 722 773 722C774.3 722 776 719.2 777 717C778 714.8 778 711.2 779 709C780 706.8 781.8 704 783 704C784.2 704 785.7 706.8 786 709C786.3 711.2 785.5 714.7 785 717C784.5 719.3 782.3 721.8 783 723C783.7 724.2 786.7 723.7 789 724C791.3 724.3 794.5 724.3 797 725C799.5 725.7 802.8 727.5 804 728" fill="none" stroke="#3d7f1f" stroke-width="5.4" stroke-linecap="round" stroke-linejoin="round"/>
<path d="M679 590C678.2 590.7 674.8 592.3 674 594C673.2 595.7 673 598.7 674 600C675 601.3 678.2 601.2 680 602C681.8 602.8 683.5 603.5 685 605C686.5 606.5 688.5 608.7 689 611C689.5 613.3 688.7 616.7 688 619C687.3 621.3 684.8 623 685 625C685.2 627 687.3 629.3 689 631C690.7 632.7 693 634.5 695 635C697 635.5 699 634.7 701 634C703 633.3 704.7 631.2 707 631C709.3 630.8 712.3 632.2 715 633C717.7 633.8 721 634.7 723 636C725 637.3 726.5 638.8 727 641C727.5 643.2 725.7 646.3 726 649C726.3 651.7 729.2 654.3 729 657C728.8 659.7 726 662.7 725 665C724 667.3 722.7 669.3 723 671C723.3 672.7 725.3 675.3 727 675C728.7 674.7 730.3 670.7 733 669C735.7 667.3 741 665.3 743 665C745 664.7 745.7 665.7 745 667C744.3 668.3 740.3 670.7 739 673C737.7 675.3 737 678.3 737 681C737 683.7 738 686.3 739 689C740 691.7 742 694.3 743 697C744 699.7 744 702.7 745 705C746 707.3 747.3 710 749 711C750.7 712 752.7 710.8 755 711C757.3 711.2 760.7 711 763 712C765.3 713 767.3 715.3 769 717C770.7 718.7 771.7 722 773 722C774.3 722 776 719.2 777 717C778 714.8 778 711.2 779 709C780 706.8 781.8 704 783 704C784.2 704 785.7 706.8 786 709C786.3 711.2 785.5 714.7 785 717C784.5 719.3 782.3 721.8 783 723C783.7 724.2 786.7 723.7 789 724C791.3 724.3 794.5 724.3 797 725C799.5 725.7 802.8 727.5 804 728" fill="none" stroke="#4fa32b" stroke-width="4.2" stroke-linecap="round" stroke-linejoin="round"/>
<path d="M1020 276 L1018.6 274.1 L1017.1 272.1 L1015.6 270.2 L1014.2 268.3 L1012 267 L1010.9 264.9 L1009.8 262.9 L1007.1 262.1 L1006.4 259.8 L1005.6 257.5 L1003.8 256 L1002.8 254 L1000.3 253 L999.4 250.8 L998 249 L996.2 247.6 L995.2 245.5 L993.7 243.7 L991.5 242.7 L990.3 240.7 L989 238.9 L988.4 236.4 L986.7 234.9 L984.4 233.8 L983.9 231.4 L982 230 L980 228.7 L979.2 226.4 L977 225.2 L975.3 223.6 L975 220.8 L972.6 219.8 L971.1 218.1 L970.7 215.4 L969 213.8 L966.7 212.7 L966.1 210.2 L964 209 L962.6 207.2 L961.3 205.2 L959.2 203.9 L958.8 201.3 L957 199.8 L955.9 197.7 L954.3 196 L952 194.8 L950.7 193 L949.4 191 L947.3 189.4 L945.6 187.4 L943.8 185.5 L942.4 183.2 L941 181 L939.6 179.1 L937.3 178.1 L936.7 175.5 L935 174 L932.3 174.3 L929.6 174 L927.6 175.1 L925.1 175 L923.2 176.3 L921 177 L919.1 178.5 L916.9 179.5 L914.6 180.4 L912.7 182 L911.4 184 L908.6 184.1 L907.9 186.8 L905.6 187.5 L903.2 187.6 L900.8 187.9 L898.6 189 L896 190.5 L893 190.4 L890.2 189.6 L887.3 190.1 L884.5 189.6 L882.2 188.3 L879.4 188 L877.4 186 L875.1 185.7 L873.2 184.5 L871.8 182.3 L869.2 182.5 L867.5 181 L865.6 179.6 L863.6 178.3 L861.5 177.3 L859 177 L856.7 175.6 L854.6 174 L852.7 172.2 L850.6 170.6 L848.4 168.1 L845.6 166.4 L843.9 168.3 L841.4 169 L839.4 170.4 L837.8 172 L836.5 174 L834.5 176 L834.2 179.1 L832 181 L829.6 182.4 L828.9 185.4 L826.6 186.8 L824.8 188.5 L822.5 189.5 L820.2 190.5 L818.8 192.8 L816.7 194 L815.5 196.4 L815.8 199 L815.8 201.6 L815 204 L813.6 205.9 L812.1 207.7 L810 209 L808.5 211.1 L806.4 212.5 L803.8 213.2 L801.5 214.3 L800 216.5 L798 218.8 L795.8 220.7 L793 221.8 L790.5 221.2 L788.2 222.3 L785.9 222.9 L783.5 223 L781.1 223.5 L778.8 222.8 L776.4 222.4 L774 223 L771.7 223.1 L769.4 223.1 L767 223.8 L764.7 223 L762.4 221.8 L759.7 222.8 L757.4 221.5 L755 221 L752.2 219.2 L749 218.6 L746.3 219 L743.7 217.7 L741 217.8 L738.7 217.3 L736.6 218.2 L734.3 218.2 L732.3 219.8 L730 219.4 L727.8 220.1 L725.8 221.2 L723.2 220.7 L721.3 222.2 L719 222.5 L717.1 224.1 L714.5 224.8 L713 227 L710.7 228.8 L708.7 230.8 L707.5 233.5 L706.6 235.5 L705.5 237.5 L704.1 239.2 L703.5 241.4 L701.9 243.3 L700.5 245.4 L698.8 247.2 L697 249 L696 251.4 L694.2 253.1 L691.8 254.5 L691 257 L689 258.6 L688.3 260.9 L687.3 263 L686 265 L684.2 267 L682.5 269.1 L680 270.4 L677.9 271.3 L675.5 270.8 L673.3 271.1 L671.3 272.5 L669 272.7 L666.3 272.5 L663.6 272.7 L661 273.5 L658.7 273.1 L656.4 273.2 L654.1 273 L651.8 273.5 L649.3 274.4 L646.6 274.4 L644.2 275.8 L641.6 276.1 L639 276.7 L636.7 276.7 L634.5 277.3 L632.5 278.4 L630 277.8 L628 279 L625.8 280.4 L623.9 282.1 L622.5 284.5 L619.9 285.3 L618 287 L618.2 289.3 L617.2 291.5 L617.3 293.8 L617 296 L614.8 296.8 L613.2 298.4 L611.2 299.5 L609.8 301.4 L607.8 302.5 L605.7 304.5 L603.6 306.5 L602 309 L600 310.2 L599 312.4 L596.8 313.4 L595.1 314.9 L594 317 L592.7 318.8 L591.2 320.6 L590.3 322.6 L590 325 L588 326.2 L586 327.4 L584.3 329.1 L581.7 329.3 L580 331 L577.6 331.5 L576 333.4 L573.8 334.3 L571.8 335.5 L570 337 L567.8 338.1 L566.3 340.3 L563.7 340.8 L561.9 342.5 L560 344 L558.7 345.9 L558 348 L555.3 347.8 L552.7 347.1 L550 347 L547.5 346.9 L545.2 347.6 L542.7 347.8 L540.5 349.4 L538 349 L536.1 351 L533.6 352.1 L531.1 353.3 L529 355 L529.3 357.4 L528.3 359.8 L528.2 362.2 L529 364.7 L528 367 L527 369 L526.4 371.2 L525.7 373.4 L524 375 L525.4 377.3 L525.8 379.9 L526.8 382.3 L527 385 L527.2 387.4 L527.2 389.8 L526 392 L524 394.5 L522 397 L520.1 398.2 L517.9 398.8 L515.9 399.9 L514.2 401.4 L512 402 L510.3 404.2 L510 407 L509 409.3 L506.8 410.5 L505.3 412.3 L503.4 413.8 L502.2 415.8 L500 417 L498.6 420 L497.6 422.6 L497.7 425.4 L495.7 426.8 L493.8 428.5 L491.3 429 L489 429.5 L487 431 L484.5 430.9 L482.3 431.7 L480.1 432.2 L477.8 432 L475.5 431.6 L473.3 432.6 L471.1 431.2 L468.4 431 L466 430 L464.6 428 L462.6 426.7 L460.7 425.4 L458.4 426.4 L456 427 L455.1 429.8 L452.9 431.8 L451.6 434.4 L450.8 436.6 L449.5 438.7 L448.8 441 L449 443.5 L449 445.8 L449.7 448 L448.9 450.3 L449.8 452.5 L450 455 L449.1 457.2 L447.6 459.2 L447 461.5 L447 464 L448 466.4 L447.4 469 L447.1 471.6 L448 474 L447.8 476.5 L447.2 478.9 L447.1 481.4 L446.6 483.8 L444.9 486 L445.3 488.6 L445.3 491.1 L444.1 493.5 L444 496 L444.4 498.5 L444.4 501 L444.5 503.6 L442.8 506 L443.3 508.7 L443.1 511.3 L442.6 513.8 L442.4 516 L440.7 517.9 L441.1 520.3 L440.9 522.5 L440 524.6 L440.3 527 L441.2 529.4 L440.8 531.9 L442.5 533.4 L444.5 534.4 L446.4 535.4 L448 537 L450.5 538.9 L453.5 540 L452 542.8 L451.6 546 L451.3 548.6 L449.3 550.4 L448.6 552.8 L446.4 554.4 L446 557 L444.3 559 L443.8 561.7 L442.5 564 L440.8 566 L440 568.6 L437.3 570 L437.1 572.9 L435.4 575 L433.9 577.1 L432.7 579.5 L431.1 581.6 L430 584 L428.5 586.2 L427 588.4 L426 591 L425.6 593.8 L423.6 595.8 L423.3 598.6 L422 601 L422.2 603.5 L422.8 606 L423.1 608.5 L423 611 L424.2 613 L425.6 615 L427 616.9 L428 619 L429.7 620.9 L431.9 622.1 L434.5 622.8 L436 625 L438.3 626.1 L440 627.9 L441.6 630.1 L444 631 L445.6 633.1 L447.9 634.3 L450.5 635.1 L451.7 637.8 L454 639 L456.1 640.5 L457.9 642.3 L459.8 644.1 L461.9 645.6 L464 647 L466 648.2 L467.6 650 L470.1 650.4 L472.1 651.6 L474 653 L476.2 654.4 L479 654.1 L481.3 655.1 L483.4 656.8 L486 657" fill="none" stroke="#000" stroke-width="2.8" stroke-linejoin="round" stroke-dasharray="36 2.2 2.6 2.2"/>
<path d="M723 849 L725.9 850.1 L729.1 849.4 L732 850.8 L735 851 L737.9 851 L740.5 852.4 L743.5 851.6 L746.1 853.1 L749 853 L751.8 853.6 L754.5 854.2 L757.3 854.8 L760.2 854.3 L763 855 L765.7 855.5 L768.3 856.6 L771 857 L773.9 857.3 L776.7 857.9 L779.5 858.5 L782.1 859.8 L785 860 L787.3 861.7 L789.8 862.8 L792.6 863.5 L795 865 L797 867.1 L799.7 868.3 L802 870 L804.3 868.4 L807 867.3 L809.5 865.9 L811.8 864.2 L814.5 863.4 L817 862 L819.3 860.8 L821.7 860.1 L824.2 859.5 L826.4 858.2 L828.6 856.9 L831 856 L833.9 855.4 L836.8 854.6 L839.4 853 L842.4 852.5 L845 851 L847.4 848.8 L850.1 847.3 L853 846 L855.1 844 L858 843.1 L860 841 L861.9 839.3 L863.7 837.4 L865.1 835.2 L867.1 833.4 L869.2 831.9 L870.3 829.3 L872.1 827.5 L873.8 825.5 L876 824 L878 822.3 L880.3 821.1 L882 819.2 L883.9 817.4 L886 815.9 L887.8 814 L890.3 813 L892 811 L894.2 809.6 L896.4 808.2 L898.7 806.9 L901.3 806.2 L903.3 804.4 L906 803.7 L908 802 L910.3 800.6 L912.8 799.5 L915 797.9 L917.8 797.6 L920 796 L922.5 795.3 L924.7 794 L926.8 792.6 L929.3 792 L931.6 790.9 L934 790 L936.9 789.4 L939.8 788.5 L942.5 787.3 L945.1 785.8 L948 785" fill="none" stroke="#000" stroke-width="2.8" stroke-linejoin="round" stroke-dasharray="30 2.4 2.6 2.4"/>
<path d="M498 651 L502 651.3 L506 651.6 L510 652 L514 652.1 L518 652.9 L522 653 L526.6 652.3 L531.3 652.3 L536 652 L540.9 653.8 L546 655 L551.2 657.7 L556 661 L559.3 663.7 L562.6 666.4 L566 669 L570.2 672.8 L574 677 L577.1 682 L580 687 L582.9 692.1 L586 697 L589 701 L592 705 L595.9 708.6 L600 712 L605 716 L607.2 720.4 L609.2 724.9 L611.2 729.4 L613 734 L615.7 738.3 L618.1 742.8 L621 747 L624 750 L626.9 753.1 L630.1 755.9 L633 759 L635.9 762.4 L639.2 765.3 L642.1 768.7 L645 772 L648.9 776.1 L653 780 L655.4 783.6 L658 787 L663 791 L667 792.3 L671.1 793.5 L675.1 795 L679.1 796.4 L683 798 L689 800 L695 803 L697.8 805.9 L700.2 809.1 L703 812 L706.2 816.9 L709 822 L709.7 826.1 L711 830 L710.7 834.5 L711.3 839 L711.1 843.5 L711 848 L715 848.3 L719 848.3 L723 849" fill="none" stroke="#000" stroke-width="2.6" stroke-dasharray="22.5 5.5 2.4 5.5"/>
<path d="M948 785 L952 783 L956 780.9 L959.9 778.8 L964 777 L968.1 775.6 L971.9 773.3 L976 772 L980 770 L984 768 L988.6 765.7 L993 763 L994 757 L993 752.5 L992.5 748 L991.8 743.5 L991 739 L990.5 735 L990.5 731 L990.5 727 L990.2 723 L990 719 L990.8 715 L991.1 711 L992 707 L993.8 701.9 L996 697 L997.1 692.9 L998.7 689 L1000 685 L1002.3 681.1 L1004.1 677 L1006 673 L1008.8 669.1 L1011.3 665 L1014 661 L1016.6 657.6 L1018.8 653.8 L1021.4 650.4 L1024 647 L1026.8 643.1 L1029.5 639.1 L1032 635 L1034 631 L1035.7 626.9 L1037.9 622.9 L1040 619 L1041.3 614.9 L1042.9 610.9 L1044.7 607.1 L1046 603 L1047.1 598.3 L1048.9 593.7 L1050 589 L1052.7 585.1 L1055 581 L1060 579" fill="none" stroke="#000" stroke-width="2.6" stroke-dasharray="22.5 5.5 2.4 5.5"/>
<path d="M1041 563 L1045.5 564.5 L1050 566 L1055 568.4 L1060 571" fill="none" stroke="#000" stroke-width="2.6" stroke-dasharray="22.5 5.5 2.4 5.5"/>
<path d="M1047 559 L1048.5 554 L1050 549 L1051.2 544.3 L1052.4 539.6 L1054 535 L1055.2 531.1 L1055.7 526.9 L1057 523 L1058 519 L1059.6 514.4 L1060.4 509.6 L1062 505 L1064 501 L1066.1 497 L1068 493 L1073 489 L1078 485 L1081.8 480.8 L1086 477 L1084 470 L1082.4 464.5 L1081 459 L1080.5 455 L1079.8 451 L1079.4 447 L1078.4 443 L1078 439 L1078.7 434.7 L1079.4 430.4 L1080.6 426.1 L1081.7 421.9 L1082.3 417.6 L1083.3 413.3 L1084 409 L1084.5 404.7 L1085.3 400.5 L1085.4 396.1 L1086.1 391.8 L1087 387.6 L1087.6 383.3 L1088 379 L1088.3 375 L1088.5 371 L1089 367 L1089.4 363 L1090 359 L1087.9 355.6 L1086 352 L1082.8 348.2 L1079.2 344.8 L1076 341 L1073.4 337.4 L1070.5 334 L1067.2 330.9 L1064.5 327.3 L1061.7 323.9 L1058.6 320.6 L1056 317 L1053.1 313.6 L1050.5 310 L1047.2 306.9 L1044.6 303.2 L1041.5 300 L1038.9 296.4 L1036 293 L1033 289.4 L1029.4 286.3 L1026.1 283 L1023 279.6 L1020 276" fill="none" stroke="#000" stroke-width="2.6" stroke-dasharray="22.5 5.5 2.4 5.5"/>
<path d="M1096.2 251 L1096.2 335.8" stroke="#000" stroke-width="2.5" fill="none"/>
<path d="M1097.45 249.5 L1097.45 286.4 L1089.9 286.4 L1090.2 284.6 Z" fill="#000"/>
<text x="0" y="0" font-size="10.5" font-weight="bold" transform="translate(1084.2 324.2) rotate(90) scale(0.8 1)" fill="#000">N</text>
<g fill="#062b45" font-size="11.8">
<text x="580" y="875.6" text-anchor="middle">0</text><text x="636.8" y="875.6" text-anchor="middle">25</text><text x="692.6" y="875.6" text-anchor="middle">50</text>
<text x="696.4" y="887.8" font-size="11.8" stroke="#062b45" stroke-width="0.25">Miles</text></g>
<rect x="580.2" y="881.8" width="113.6" height="7.1" fill="#000"/>
<rect x="581.4" y="885.6" width="55.2" height="2.2" fill="#fff"/>
<rect x="637.4" y="882.9" width="55.2" height="2.3" fill="#fff"/>
<rect x="168.5" y="357.5" width="197" height="528.8" fill="#fff" stroke="#b9b9b9" stroke-width="2"/>
<path d="M175 389 L175 363.4 L183 363.4 M186.5 363.4 L188 363.4 M193 363.4 L227.6 363.4 L227.6 366 M227.6 371 L227.6 372.5 M227.6 378 L227.6 388.6 L209 388.6 M197.2 388.6 L198.8 388.6 M186 388.6 L175 388.6" fill="none" stroke="#000" stroke-width="2.1"/>
<rect x="174.8" y="398.9" width="52.6" height="26" fill="#fff" stroke="#000" stroke-width="1.5"/>
<path d="M175 446.5 C180 439.5 190 438 198 444.5 C206 451 212 458 224 452 C226 451 227.5 449.5 228.3 448" fill="none" stroke="#3d7f1f" stroke-width="4.6" stroke-linecap="round"/>
<path d="M175 446.5 C180 439.5 190 438 198 444.5 C206 451 212 458 224 452 C226 451 227.5 449.5 228.3 448" fill="none" stroke="#4fa32b" stroke-width="3.4" stroke-linecap="round"/>
<g font-size="12.75" fill="#111">
<text x="236.6" y="380.8">NFSEG Model Extent</text>
<text x="236.6" y="416.2">NFRWSP Region</text>
<text x="236.6" y="451.9">Cody Scarp (Toe)</text>
<rect x="174.7" y="532.6" width="52.4" height="25.8" fill="#4575b5"/>
<text x="236.6" y="549.8">Increase &gt; 10 ft</text>
<rect x="174.7" y="568.4" width="52.4" height="25.8" fill="#6e90bd"/>
<text x="236.6" y="585.6">Increase 5 to 10 ft</text>
<rect x="174.7" y="604.3" width="52.4" height="25.8" fill="#9ab0c2"/>
<text x="236.6" y="621.5">Increase 1 to 5 ft</text>
<rect x="174.7" y="640.1" width="52.4" height="25.8" fill="#c3cbc3"/>
<text x="236.6" y="657.3">Increase 0.25 to 1 ft</text>
<rect x="174.7" y="675.9" width="52.4" height="25.8" fill="#e7ebbd"/>
<text x="236.6" y="693.1">Increase 0 to 0.25 ft</text>
<rect x="174.7" y="711.8" width="52.4" height="25.8" fill="#fee6a9"/>
<text x="236.6" y="729">Decrease 0 to 0.25 ft</text>
<rect x="174.7" y="747.6" width="52.4" height="25.8" fill="#f9b888"/>
<text x="236.6" y="764.8">Decrease 0.25 to 1 ft</text>
<rect x="174.7" y="783.4" width="52.4" height="25.8" fill="#f08d63"/>
<text x="236.6" y="800.6">Decrease 1 to 5 ft</text>
<rect x="174.7" y="819.2" width="52.4" height="25.8" fill="#e55f41"/>
<text x="236.6" y="836.4">Decrease 5 to 10 ft</text>
<rect x="174.7" y="855.1" width="52.4" height="25.8" fill="#d6302a"/>
<text x="236.6" y="872.3">Decrease &gt; 10 ft</text>
</g>
<g font-size="14.66" font-weight="bold" fill="#000">
<text x="174.6" y="483.8">Projected Changes in</text>
<text x="174.6" y="500.8">Lower Floridan Auqifer</text>
<text x="174.6" y="517.8">Water Levels</text>
</g>
</g>
<rect x="159.5" y="159.5" width="957.3" height="735.8" fill="none" stroke="#000" stroke-opacity="0.5" stroke-width="1"/>
</svg>
</body></html>
